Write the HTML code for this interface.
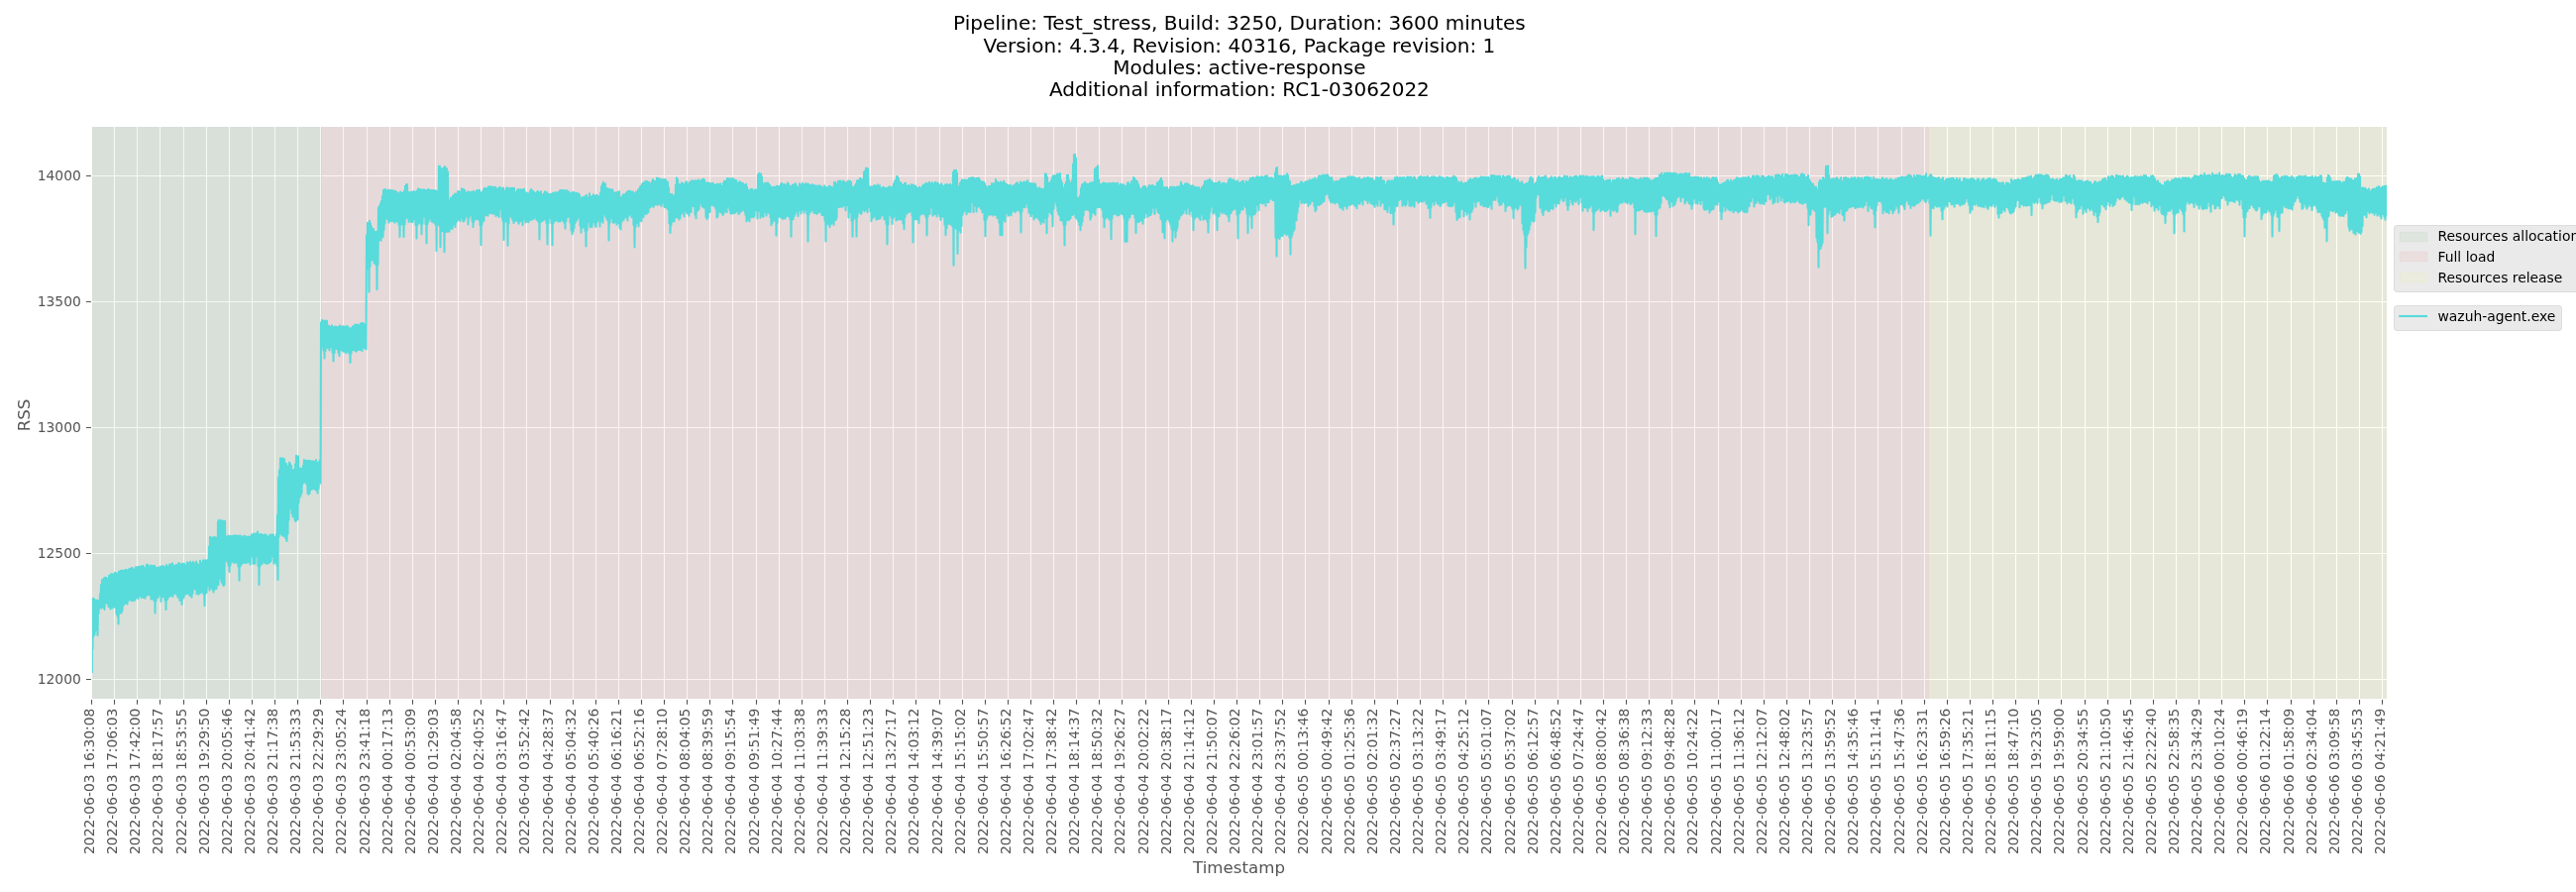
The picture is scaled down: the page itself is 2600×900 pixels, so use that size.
<!DOCTYPE html>
<html lang="en"><head><meta charset="utf-8"><title>RSS - wazuh-agent.exe</title>
<style>html,body{margin:0;padding:0;background:#fff}svg{display:block;will-change:transform}text{font-family:"DejaVu Sans","Liberation Sans",sans-serif}</style></head><body>
<svg width="2600" height="900" viewBox="0 0 2600 900">
<rect width="2600" height="900" fill="#ffffff"/>
<rect x="93.0" y="128.0" width="2316.0" height="577.0" fill="#e5e5e5"/>
<path d="M115.5,128.0V705.0M138.5,128.0V705.0M161.5,128.0V705.0M185.5,128.0V705.0M208.5,128.0V705.0M231.5,128.0V705.0M254.5,128.0V705.0M277.5,128.0V705.0M300.5,128.0V705.0M323.5,128.0V705.0M346.5,128.0V705.0M370.5,128.0V705.0M393.5,128.0V705.0M416.5,128.0V705.0M439.5,128.0V705.0M462.5,128.0V705.0M485.5,128.0V705.0M508.5,128.0V705.0M531.5,128.0V705.0M555.5,128.0V705.0M578.5,128.0V705.0M601.5,128.0V705.0M624.5,128.0V705.0M647.5,128.0V705.0M670.5,128.0V705.0M693.5,128.0V705.0M716.5,128.0V705.0M739.5,128.0V705.0M763.5,128.0V705.0M786.5,128.0V705.0M809.5,128.0V705.0M832.5,128.0V705.0M855.5,128.0V705.0M878.5,128.0V705.0M901.5,128.0V705.0M924.5,128.0V705.0M948.5,128.0V705.0M971.5,128.0V705.0M994.5,128.0V705.0M1017.5,128.0V705.0M1040.5,128.0V705.0M1063.5,128.0V705.0M1086.5,128.0V705.0M1109.5,128.0V705.0M1132.5,128.0V705.0M1156.5,128.0V705.0M1179.5,128.0V705.0M1202.5,128.0V705.0M1225.5,128.0V705.0M1248.5,128.0V705.0M1271.5,128.0V705.0M1294.5,128.0V705.0M1317.5,128.0V705.0M1341.5,128.0V705.0M1364.5,128.0V705.0M1387.5,128.0V705.0M1410.5,128.0V705.0M1433.5,128.0V705.0M1456.5,128.0V705.0M1479.5,128.0V705.0M1502.5,128.0V705.0M1526.5,128.0V705.0M1549.5,128.0V705.0M1572.5,128.0V705.0M1595.5,128.0V705.0M1618.5,128.0V705.0M1641.5,128.0V705.0M1664.5,128.0V705.0M1687.5,128.0V705.0M1710.5,128.0V705.0M1734.5,128.0V705.0M1757.5,128.0V705.0M1780.5,128.0V705.0M1803.5,128.0V705.0M1826.5,128.0V705.0M1849.5,128.0V705.0M1872.5,128.0V705.0M1895.5,128.0V705.0M1919.5,128.0V705.0M1942.5,128.0V705.0M1965.5,128.0V705.0M1988.5,128.0V705.0M2011.5,128.0V705.0M2034.5,128.0V705.0M2057.5,128.0V705.0M2080.5,128.0V705.0M2104.5,128.0V705.0M2127.5,128.0V705.0M2150.5,128.0V705.0M2173.5,128.0V705.0M2196.5,128.0V705.0M2219.5,128.0V705.0M2242.5,128.0V705.0M2265.5,128.0V705.0M2288.5,128.0V705.0M2312.5,128.0V705.0M2335.5,128.0V705.0M2358.5,128.0V705.0M2381.5,128.0V705.0M2404.5,128.0V705.0M93.0,177.5H2409.0M93.0,304.5H2409.0M93.0,431.5H2409.0M93.0,558.5H2409.0M93.0,685.5H2409.0" stroke="#ffffff" stroke-width="1.11" fill="none"/>
<rect x="93.0" y="128.0" width="232.0" height="577.0" fill="#008000" fill-opacity="0.05"/>
<rect x="324" y="128.0" width="1623" height="577.0" fill="#ff0000" fill-opacity="0.05"/>
<rect x="1946" y="128.0" width="463.0" height="577.0" fill="#ffff00" fill-opacity="0.05"/>
<clipPath id="c"><rect x="93.0" y="128.0" width="2316.0" height="577.0"/></clipPath>
<path clip-path="url(#c)" d="M93.0,679.0 93.0,604.3 93.5,654.4 94.0,603.9 94.5,641.8 95.0,604.6 95.5,640.2 96.0,605.4 96.5,635.9 97.0,606.7 97.5,624.5 98.0,605.6 98.5,641.1 99.0,606.3 99.5,619.0 100.0,607.4 100.5,613.4 101.0,599.4 101.5,611.4 102.0,590.0 102.5,613.7 103.0,585.2 103.5,608.3 104.0,584.5 104.5,612.7 105.0,583.5 105.5,615.0 106.0,582.9 106.5,608.4 107.0,582.8 107.5,608.6 108.0,583.9 108.5,605.9 109.0,583.8 109.5,612.0 110.0,580.9 110.5,611.2 111.0,582.0 111.5,614.4 112.0,579.2 112.5,612.3 113.0,579.2 113.5,613.4 114.0,581.1 114.5,608.7 115.0,579.4 115.5,612.5 116.0,577.9 116.5,612.3 117.0,579.7 117.5,619.2 118.0,578.5 118.5,621.4 119.0,579.3 119.5,629.4 120.0,576.9 120.5,619.1 121.0,576.6 121.5,616.6 122.0,575.9 122.5,618.4 123.0,575.9 123.5,615.9 124.0,576.0 124.5,610.7 125.0,575.5 125.5,609.4 126.0,576.8 126.5,608.8 127.0,574.7 127.5,604.0 128.0,575.3 128.5,609.5 129.0,577.8 129.5,606.1 130.0,574.5 130.5,605.0 131.0,573.8 131.5,602.7 132.0,577.2 132.5,606.1 133.0,573.1 133.5,603.3 134.0,573.3 134.5,606.5 135.0,574.5 135.5,597.6 136.0,576.3 136.5,605.5 137.0,572.3 137.5,603.0 138.0,575.3 138.5,600.5 139.0,572.0 139.5,604.0 140.0,572.2 140.5,597.7 141.0,571.7 141.5,601.4 142.0,572.8 142.5,602.5 143.0,571.4 143.5,603.1 144.0,571.0 144.5,602.7 145.0,571.5 145.5,601.3 146.0,573.3 146.5,603.7 147.0,573.9 147.5,600.8 148.0,569.8 148.5,600.6 149.0,569.9 149.5,599.5 150.0,571.4 150.5,600.3 151.0,574.0 151.5,599.3 152.0,570.6 152.5,604.5 153.0,574.2 153.5,604.5 154.0,570.8 154.5,598.4 155.0,574.2 155.5,606.3 156.0,570.7 156.5,618.4 157.0,574.2 157.5,606.3 158.0,572.9 158.5,600.8 159.0,573.6 159.5,602.9 160.0,572.6 160.5,595.7 161.0,575.0 161.5,600.8 162.0,571.7 162.5,606.9 163.0,571.7 163.5,595.5 164.0,571.2 164.5,602.1 165.0,571.5 165.5,595.4 166.0,574.2 166.5,605.6 167.0,572.1 167.5,614.9 168.0,570.1 168.5,605.5 169.0,571.8 169.5,603.7 170.0,573.7 170.5,598.4 171.0,569.5 171.5,601.7 172.0,571.0 172.5,600.2 173.0,569.3 173.5,601.1 174.0,568.2 174.5,601.8 175.0,572.9 175.5,598.7 176.0,571.0 176.5,598.8 177.0,570.2 177.5,598.4 178.0,570.4 178.5,600.0 179.0,569.8 179.5,602.6 180.0,568.4 180.5,599.4 181.0,568.4 181.5,606.0 182.0,569.3 182.5,604.2 183.0,571.0 183.5,609.9 184.0,568.8 184.5,604.1 185.0,569.5 185.5,602.8 186.0,568.9 186.5,600.0 187.0,570.5 187.5,599.5 188.0,570.8 188.5,597.9 189.0,567.4 189.5,598.9 190.0,568.3 190.5,597.8 191.0,569.6 191.5,601.0 192.0,566.8 192.5,597.5 193.0,568.1 193.5,602.7 194.0,568.4 194.5,598.7 195.0,566.7 195.5,594.5 196.0,568.2 196.5,594.2 197.0,569.1 197.5,591.6 198.0,566.5 198.5,599.2 199.0,568.5 199.5,596.7 200.0,569.8 200.5,599.7 201.0,569.7 201.5,594.4 202.0,565.7 202.5,598.2 203.0,568.9 203.5,593.4 204.0,567.8 204.5,597.2 205.0,565.4 205.5,599.5 206.0,568.5 206.5,611.1 207.0,565.3 207.5,599.1 208.0,567.2 208.5,597.8 209.0,565.2 209.5,591.6 210.0,564.9 210.5,589.3 211.0,551.6 211.5,595.6 212.0,541.7 212.5,587.5 213.0,543.0 213.5,593.2 214.0,542.5 214.5,594.7 215.0,543.0 215.5,597.4 216.0,541.9 216.5,594.7 217.0,542.2 217.5,593.4 218.0,544.5 218.5,593.9 219.0,542.6 219.5,589.1 220.0,526.3 220.5,590.3 221.0,524.9 221.5,582.8 222.0,528.2 222.5,583.7 223.0,525.0 223.5,586.9 224.0,526.3 224.5,589.0 225.0,525.5 225.5,590.9 226.0,526.1 226.5,590.1 227.0,525.7 227.5,565.2 228.0,541.7 228.5,563.2 229.0,542.5 229.5,567.3 230.0,540.5 230.5,570.5 231.0,542.2 231.5,577.0 232.0,540.8 232.5,570.5 233.0,541.3 233.5,563.6 234.0,541.1 234.5,566.8 235.0,541.2 235.5,560.7 236.0,540.6 236.5,568.3 237.0,540.4 237.5,563.2 238.0,542.1 238.5,567.0 239.0,540.6 239.5,568.2 240.0,542.0 240.5,571.5 241.0,540.5 241.5,585.7 242.0,544.0 242.5,571.5 243.0,540.6 243.5,569.5 244.0,542.2 244.5,568.6 245.0,541.9 245.5,561.0 246.0,540.9 246.5,567.9 247.0,543.2 247.5,566.8 248.0,541.1 248.5,568.0 249.0,542.6 249.5,567.4 250.0,542.0 250.5,566.2 251.0,541.6 251.5,567.2 252.0,541.6 252.5,569.4 253.0,542.5 253.5,561.5 254.0,539.4 254.5,560.7 255.0,541.4 255.5,568.9 256.0,538.5 256.5,562.3 257.0,539.8 257.5,568.7 258.0,538.6 258.5,561.2 259.0,538.5 259.5,560.7 260.0,536.6 260.5,571.0 261.0,539.0 261.5,590.1 262.0,540.0 262.5,571.0 263.0,539.0 263.5,567.6 264.0,539.2 264.5,569.1 265.0,541.8 265.5,564.3 266.0,539.8 266.5,566.9 267.0,542.3 267.5,568.2 268.0,539.3 268.5,567.0 269.0,540.2 269.5,569.0 270.0,541.6 270.5,562.4 271.0,541.5 271.5,568.0 272.0,539.8 272.5,567.1 273.0,540.5 273.5,565.9 274.0,539.3 274.5,561.4 275.0,539.9 275.5,560.7 276.0,539.5 276.5,568.8 277.0,541.8 277.5,567.2 278.0,543.1 278.5,567.8 279.0,539.1 279.5,570.4 280.0,519.5 280.5,585.0 281.0,481.5 281.5,541.5 282.0,474.2 282.5,533.2 283.0,462.2 283.5,538.6 284.0,465.5 284.5,539.7 285.0,462.4 285.5,540.4 286.0,463.1 286.5,540.9 287.0,463.2 287.5,535.3 288.0,468.3 288.5,543.4 289.0,467.9 289.5,545.9 290.0,470.6 290.5,538.7 291.0,475.6 291.5,524.4 292.0,466.5 292.5,512.9 293.0,468.0 293.5,511.9 294.0,469.8 294.5,517.9 295.0,475.6 295.5,521.2 296.0,474.4 296.5,520.2 297.0,473.7 297.5,524.5 298.0,468.2 298.5,526.2 299.0,459.8 299.5,524.5 300.0,461.7 300.5,524.1 301.0,460.3 301.5,506.9 302.0,472.8 302.5,501.7 303.0,472.5 303.5,500.5 304.0,473.4 304.5,497.4 305.0,473.0 305.5,488.1 306.0,469.8 306.5,481.2 307.0,464.0 307.5,486.7 308.0,466.0 308.5,485.1 309.0,464.9 309.5,488.8 310.0,465.1 310.5,497.6 311.0,465.1 311.5,498.7 312.0,464.9 312.5,497.7 313.0,465.6 313.5,492.8 314.0,465.3 314.5,493.9 315.0,467.2 315.5,492.6 316.0,465.3 316.5,493.1 317.0,465.7 317.5,492.5 318.0,466.8 318.5,494.5 319.0,464.0 319.5,490.7 320.0,467.8 320.5,497.4 321.0,466.7 321.5,492.7 322.0,465.7 322.5,487.6 323.0,464.0 323.5,487.6 324.0,325.4 324.5,344.3 325.0,323.1 325.5,349.8 326.0,323.7 326.5,353.7 327.0,324.5 327.5,361.5 328.0,323.5 328.5,354.0 329.0,323.7 329.5,346.2 330.0,323.9 330.5,350.9 331.0,329.8 331.5,351.1 332.0,328.7 332.5,353.5 333.0,330.6 333.5,345.5 334.0,329.7 334.5,350.1 335.0,328.3 335.5,355.5 336.0,330.9 336.5,364.4 337.0,330.1 337.5,355.9 338.0,329.6 338.5,352.0 339.0,332.2 339.5,350.8 340.0,329.8 340.5,352.4 341.0,331.2 341.5,355.9 342.0,329.7 342.5,359.1 343.0,328.5 343.5,349.6 344.0,329.4 344.5,353.2 345.0,330.3 345.5,353.6 346.0,329.6 346.5,354.4 347.0,329.2 347.5,355.0 348.0,331.2 348.5,353.4 349.0,329.8 349.5,356.2 350.0,329.3 350.5,354.7 351.0,329.2 351.5,354.3 352.0,330.7 352.5,356.9 353.0,332.1 353.5,365.9 354.0,331.4 354.5,356.6 355.0,331.1 355.5,352.8 356.0,329.2 356.5,353.2 357.0,330.6 357.5,348.5 358.0,328.0 358.5,354.0 359.0,327.5 359.5,354.8 360.0,330.8 360.5,353.5 361.0,327.6 361.5,352.9 362.0,328.2 362.5,346.0 363.0,328.7 363.5,353.1 364.0,326.5 364.5,347.6 365.0,326.2 365.5,354.0 366.0,325.9 366.5,345.5 367.0,326.8 367.5,351.3 368.0,327.5 368.5,348.6 369.0,328.2 369.5,352.4 370.0,237.4 370.5,271.2 371.0,224.9 371.5,269.6 372.0,225.2 372.5,294.5 373.0,222.7 373.5,269.1 374.0,225.5 374.5,259.5 375.0,228.8 375.5,262.4 376.0,232.9 376.5,260.5 377.0,231.1 377.5,265.6 378.0,235.1 378.5,259.2 379.0,234.1 379.5,267.5 380.0,233.8 380.5,292.1 381.0,233.7 381.5,267.0 382.0,209.3 382.5,242.1 383.0,208.0 383.5,236.8 384.0,205.2 384.5,242.7 385.0,202.9 385.5,239.3 386.0,197.9 386.5,239.1 387.0,192.0 387.5,232.1 388.0,191.1 388.5,225.5 389.0,191.3 389.5,219.9 390.0,194.1 390.5,220.5 391.0,192.4 391.5,221.5 392.0,191.9 392.5,224.7 393.0,191.8 393.5,216.2 394.0,192.9 394.5,223.0 395.0,192.0 395.5,217.2 396.0,192.7 396.5,223.2 397.0,192.4 397.5,222.9 398.0,193.5 398.5,224.7 399.0,192.8 399.5,222.7 400.0,193.5 400.5,223.5 401.0,194.2 401.5,220.5 402.0,195.3 402.5,226.7 403.0,195.0 403.5,239.1 404.0,193.6 404.5,226.6 405.0,194.7 405.5,225.4 406.0,194.5 406.5,226.5 407.0,195.0 407.5,239.1 408.0,192.6 408.5,226.5 409.0,187.8 409.5,220.4 410.0,186.1 410.5,219.7 411.0,186.2 411.5,219.1 412.0,194.5 412.5,223.9 413.0,194.1 413.5,218.6 414.0,195.9 414.5,223.5 415.0,193.7 415.5,224.0 416.0,193.9 416.5,224.1 417.0,193.5 417.5,217.9 418.0,193.2 418.5,221.4 419.0,193.6 419.5,227.0 420.0,193.9 420.5,240.6 421.0,192.5 421.5,227.0 422.0,190.2 422.5,223.8 423.0,192.2 423.5,224.7 424.0,191.0 424.5,225.8 425.0,192.7 425.5,236.2 426.0,191.5 426.5,225.7 427.0,191.6 427.5,218.4 428.0,191.4 428.5,216.0 429.0,192.4 429.5,226.2 430.0,192.0 430.5,245.5 431.0,192.0 431.5,226.2 432.0,191.1 432.5,223.4 433.0,191.4 433.5,220.6 434.0,193.5 434.5,219.2 435.0,192.0 435.5,223.4 436.0,192.0 436.5,222.0 437.0,192.2 437.5,224.6 438.0,192.0 438.5,222.3 439.0,192.5 439.5,226.4 440.0,192.6 440.5,253.1 441.0,193.1 441.5,226.3 442.0,193.2 442.5,222.6 443.0,167.8 443.5,227.9 444.0,167.8 444.5,249.3 445.0,170.0 445.5,229.9 446.0,170.4 446.5,233.3 447.0,170.5 447.5,232.1 448.0,169.3 448.5,254.3 449.0,168.0 449.5,234.1 450.0,169.5 450.5,232.0 451.0,170.4 451.5,233.9 452.0,173.4 452.5,227.5 453.0,204.5 453.5,233.7 454.0,202.2 454.5,230.7 455.0,199.9 455.5,228.0 456.0,201.8 456.5,231.0 457.0,197.8 457.5,226.7 458.0,197.2 458.5,223.0 459.0,195.6 459.5,228.9 460.0,196.6 460.5,224.3 461.0,195.6 461.5,222.8 462.0,193.2 462.5,219.5 463.0,193.0 463.5,221.5 464.0,194.9 464.5,223.1 465.0,193.5 465.5,217.9 466.0,190.3 466.5,220.1 467.0,192.6 467.5,223.5 468.0,191.1 468.5,222.9 469.0,192.1 469.5,220.5 470.0,195.5 470.5,217.5 471.0,194.8 471.5,218.1 472.0,193.2 472.5,226.4 473.0,197.5 473.5,219.6 474.0,193.9 474.5,217.2 475.0,194.4 475.5,215.9 476.0,193.7 476.5,223.1 477.0,196.2 477.5,228.9 478.0,192.9 478.5,223.5 479.0,194.5 479.5,216.1 480.0,194.1 480.5,220.9 481.0,192.3 481.5,219.0 482.0,193.3 482.5,221.4 483.0,191.7 483.5,222.1 484.0,192.0 484.5,227.0 485.0,194.5 485.5,247.3 486.0,194.2 486.5,226.6 487.0,193.7 487.5,217.1 488.0,191.4 488.5,222.9 489.0,189.8 489.5,213.5 490.0,191.0 490.5,217.1 491.0,190.0 491.5,214.3 492.0,191.0 492.5,217.7 493.0,188.3 493.5,211.5 494.0,189.2 494.5,214.9 495.0,188.2 495.5,214.2 496.0,188.5 496.5,215.4 497.0,190.3 497.5,214.7 498.0,188.9 498.5,215.8 499.0,190.3 499.5,214.1 500.0,188.9 500.5,217.9 501.0,191.0 501.5,214.9 502.0,190.3 502.5,216.9 503.0,192.6 503.5,218.9 504.0,189.0 504.5,211.0 505.0,189.2 505.5,210.8 506.0,190.3 506.5,219.3 507.0,192.9 507.5,222.5 508.0,189.6 508.5,242.0 509.0,193.0 509.5,223.2 510.0,192.6 510.5,212.5 511.0,190.4 511.5,223.9 512.0,189.4 512.5,247.8 513.0,193.3 513.5,225.3 514.0,190.3 514.5,218.2 515.0,189.7 515.5,215.5 516.0,192.8 516.5,219.9 517.0,189.8 517.5,222.0 518.0,189.9 518.5,225.0 519.0,190.1 519.5,223.2 520.0,194.0 520.5,222.5 521.0,194.0 521.5,217.9 522.0,192.1 522.5,223.2 523.0,191.1 523.5,225.7 524.0,191.5 524.5,223.6 525.0,191.5 525.5,223.0 526.0,191.2 526.5,221.9 527.0,191.5 527.5,227.1 528.0,191.4 528.5,221.5 529.0,190.9 529.5,221.2 530.0,194.3 530.5,224.4 531.0,194.3 531.5,221.7 532.0,195.0 532.5,223.6 533.0,195.2 533.5,224.2 534.0,195.4 534.5,219.9 535.0,192.5 535.5,221.7 536.0,191.0 536.5,222.0 537.0,192.1 537.5,220.5 538.0,193.2 538.5,220.9 539.0,193.7 539.5,219.2 540.0,194.8 540.5,219.2 541.0,196.5 541.5,221.9 542.0,193.8 542.5,219.0 543.0,193.1 543.5,224.2 544.0,194.2 544.5,241.4 545.0,194.5 545.5,224.3 546.0,193.4 546.5,221.4 547.0,196.2 547.5,223.1 548.0,197.7 548.5,221.6 549.0,195.3 549.5,221.5 550.0,193.3 550.5,220.3 551.0,197.3 551.5,224.9 552.0,194.1 552.5,246.4 553.0,195.7 553.5,225.0 554.0,195.8 554.5,218.6 555.0,197.2 555.5,220.1 556.0,195.9 556.5,225.2 557.0,196.1 557.5,247.3 558.0,194.8 558.5,225.3 559.0,197.9 559.5,222.9 560.0,194.3 560.5,222.6 561.0,195.3 561.5,222.5 562.0,194.3 562.5,219.5 563.0,194.0 563.5,223.8 564.0,195.2 564.5,221.5 565.0,192.3 565.5,223.4 566.0,192.1 566.5,220.7 567.0,192.1 567.5,221.8 568.0,192.1 568.5,223.2 569.0,192.0 569.5,224.8 570.0,192.6 570.5,230.6 571.0,193.3 571.5,223.1 572.0,192.0 572.5,219.2 573.0,194.9 573.5,218.8 574.0,193.4 574.5,217.8 575.0,194.8 575.5,224.4 576.0,195.2 576.5,232.4 577.0,194.2 577.5,236.3 578.0,194.7 578.5,233.5 579.0,193.9 579.5,230.2 580.0,195.6 580.5,224.9 581.0,194.9 581.5,222.9 582.0,194.9 582.5,221.8 583.0,197.3 583.5,219.4 584.0,195.3 584.5,218.1 585.0,196.8 585.5,227.8 586.0,200.8 586.5,234.7 587.0,199.9 587.5,230.0 588.0,199.1 588.5,225.9 589.0,200.3 589.5,229.2 590.0,198.8 590.5,232.9 591.0,198.1 591.5,248.5 592.0,196.9 592.5,232.3 593.0,200.4 593.5,224.0 594.0,199.2 594.5,220.8 595.0,195.4 595.5,229.3 596.0,199.4 596.5,225.5 597.0,198.6 597.5,228.9 598.0,197.7 598.5,224.3 599.0,196.3 599.5,224.0 600.0,198.3 600.5,226.9 601.0,197.8 601.5,228.9 602.0,196.7 602.5,224.2 603.0,197.4 603.5,220.2 604.0,198.2 604.5,222.4 605.0,198.3 605.5,228.5 606.0,194.7 606.5,223.2 607.0,188.3 607.5,222.6 608.0,185.7 608.5,224.8 609.0,183.9 609.5,212.8 610.0,186.1 610.5,216.4 611.0,185.6 611.5,219.1 612.0,191.8 612.5,221.2 613.0,190.1 613.5,222.6 614.0,194.1 614.5,242.5 615.0,190.7 615.5,224.9 616.0,191.0 616.5,220.0 617.0,194.6 617.5,219.0 618.0,191.4 618.5,224.3 619.0,193.4 619.5,225.0 620.0,195.3 620.5,223.8 621.0,194.8 621.5,222.0 622.0,194.2 622.5,226.6 623.0,194.6 623.5,223.5 624.0,193.9 624.5,225.1 625.0,193.2 625.5,229.8 626.0,199.2 626.5,231.4 627.0,199.4 627.5,223.9 628.0,198.0 628.5,220.3 629.0,196.2 629.5,221.9 630.0,196.7 630.5,216.8 631.0,196.0 631.5,219.4 632.0,194.6 632.5,219.3 633.0,194.1 633.5,222.4 634.0,192.8 634.5,217.8 635.0,192.9 635.5,214.3 636.0,192.9 636.5,216.4 637.0,194.9 637.5,219.1 638.0,193.5 638.5,218.4 639.0,193.9 639.5,226.9 640.0,195.0 640.5,249.4 641.0,195.5 641.5,229.1 642.0,193.5 642.5,225.2 643.0,196.0 643.5,221.5 644.0,191.5 644.5,228.2 645.0,190.5 645.5,222.7 646.0,188.6 646.5,222.5 647.0,187.8 647.5,223.2 648.0,185.8 648.5,217.1 649.0,184.8 649.5,219.1 650.0,184.2 650.5,216.0 651.0,183.5 651.5,212.8 652.0,183.0 652.5,215.9 653.0,183.0 653.5,214.2 654.0,184.3 654.5,214.1 655.0,183.8 655.5,208.9 656.0,185.3 656.5,209.2 657.0,186.3 657.5,207.4 658.0,183.2 658.5,205.2 659.0,181.0 659.5,208.9 660.0,183.5 660.5,207.1 661.0,182.9 661.5,206.1 662.0,183.5 662.5,204.7 663.0,179.6 663.5,207.0 664.0,180.1 664.5,204.9 665.0,180.3 665.5,206.1 666.0,183.5 666.5,205.6 667.0,180.7 667.5,208.0 668.0,181.2 668.5,204.4 669.0,181.8 669.5,204.6 670.0,181.1 670.5,208.6 671.0,181.1 671.5,209.3 672.0,181.8 672.5,206.1 673.0,183.4 673.5,210.7 674.0,184.0 674.5,211.4 675.0,189.5 675.5,225.2 676.0,195.8 676.5,235.0 677.0,200.7 677.5,226.9 678.0,195.7 678.5,223.6 679.0,197.4 679.5,222.7 680.0,198.1 680.5,223.4 681.0,197.0 681.5,219.5 682.0,186.6 682.5,219.0 683.0,179.3 683.5,219.6 684.0,181.0 684.5,215.2 685.0,185.7 685.5,221.5 686.0,186.4 686.5,220.1 687.0,189.1 687.5,216.0 688.0,184.6 688.5,212.6 689.0,185.1 689.5,214.4 690.0,186.5 690.5,218.5 691.0,185.9 691.5,210.3 692.0,184.1 692.5,212.7 693.0,183.4 693.5,215.3 694.0,186.7 694.5,214.8 695.0,185.5 695.5,217.6 696.0,183.8 696.5,213.0 697.0,185.3 697.5,214.0 698.0,182.4 698.5,207.8 699.0,182.6 699.5,207.9 700.0,183.6 700.5,206.1 701.0,182.2 701.5,216.5 702.0,182.2 702.5,220.3 703.0,183.2 703.5,213.2 704.0,182.3 704.5,211.9 705.0,181.6 705.5,211.1 706.0,182.6 706.5,205.4 707.0,184.7 707.5,205.0 708.0,181.7 708.5,208.3 709.0,180.8 709.5,208.6 710.0,180.9 710.5,209.6 711.0,181.6 711.5,207.7 712.0,184.6 712.5,218.8 713.0,184.5 713.5,221.1 714.0,184.5 714.5,219.7 715.0,184.6 715.5,213.1 716.0,186.5 716.5,213.9 717.0,185.1 717.5,206.8 718.0,185.9 718.5,205.1 719.0,184.9 719.5,207.2 720.0,185.3 720.5,205.7 721.0,187.8 721.5,208.4 722.0,186.6 722.5,210.7 723.0,187.0 723.5,219.5 724.0,185.6 724.5,218.3 725.0,186.0 725.5,212.7 726.0,186.5 726.5,213.5 727.0,185.4 727.5,214.4 728.0,187.7 728.5,213.9 729.0,187.8 729.5,217.1 730.0,184.9 730.5,215.2 731.0,182.8 731.5,211.5 732.0,183.4 732.5,212.9 733.0,182.3 733.5,214.2 734.0,180.0 734.5,208.6 735.0,180.3 735.5,206.9 736.0,180.4 736.5,211.9 737.0,182.7 737.5,215.4 738.0,180.2 738.5,214.9 739.0,182.1 739.5,215.5 740.0,180.1 740.5,215.3 741.0,182.8 741.5,214.5 742.0,181.5 742.5,214.5 743.0,182.1 743.5,209.9 744.0,184.5 744.5,213.1 745.0,184.9 745.5,215.9 746.0,183.9 746.5,215.0 747.0,183.6 747.5,212.6 748.0,184.4 748.5,213.1 749.0,187.8 749.5,210.5 750.0,185.1 750.5,211.2 751.0,186.3 751.5,213.4 752.0,189.1 752.5,217.1 753.0,185.9 753.5,223.3 754.0,188.5 754.5,221.6 755.0,191.6 755.5,219.5 756.0,192.0 756.5,223.3 757.0,193.5 757.5,215.4 758.0,191.1 758.5,219.1 759.0,190.8 759.5,218.8 760.0,193.5 760.5,219.2 761.0,192.2 761.5,218.0 762.0,191.6 762.5,212.3 763.0,191.5 763.5,211.4 764.0,191.5 764.5,220.6 765.0,176.5 765.5,212.9 766.0,174.8 766.5,211.9 767.0,177.1 767.5,219.7 768.0,175.2 768.5,217.5 769.0,178.2 769.5,218.1 770.0,188.0 770.5,218.7 771.0,185.3 771.5,213.9 772.0,185.4 772.5,214.0 773.0,184.6 773.5,217.6 774.0,188.2 774.5,212.9 775.0,184.5 775.5,214.7 776.0,185.8 776.5,210.4 777.0,186.8 777.5,219.5 778.0,190.1 778.5,227.3 779.0,188.9 779.5,225.0 780.0,188.8 780.5,222.7 781.0,190.4 781.5,221.0 782.0,188.9 782.5,222.9 783.0,188.9 783.5,237.6 784.0,187.9 784.5,225.1 785.0,188.4 785.5,214.6 786.0,188.0 786.5,218.7 787.0,189.6 787.5,212.1 788.0,186.1 788.5,219.7 789.0,184.7 789.5,219.8 790.0,186.1 790.5,220.9 791.0,186.5 791.5,213.7 792.0,186.1 792.5,220.5 793.0,186.8 793.5,218.1 794.0,187.8 794.5,214.8 795.0,184.3 795.5,218.3 796.0,185.9 796.5,218.4 797.0,188.0 797.5,221.5 798.0,187.8 798.5,238.8 799.0,189.4 799.5,221.5 800.0,186.5 800.5,221.3 801.0,187.0 801.5,218.3 802.0,185.7 802.5,216.3 803.0,185.4 803.5,210.2 804.0,187.4 804.5,213.6 805.0,189.3 805.5,218.1 806.0,189.4 806.5,208.8 807.0,185.2 807.5,212.3 808.0,187.9 808.5,215.5 809.0,186.6 809.5,211.6 810.0,184.9 810.5,206.7 811.0,186.6 811.5,214.4 812.0,186.8 812.5,212.0 813.0,185.2 813.5,210.8 814.0,187.9 814.5,216.1 815.0,185.5 815.5,243.6 816.0,185.8 816.5,216.3 817.0,187.3 817.5,211.3 818.0,186.8 818.5,213.8 819.0,186.9 819.5,209.5 820.0,186.4 820.5,212.0 821.0,188.2 821.5,214.7 822.0,187.0 822.5,214.9 823.0,188.0 823.5,214.9 824.0,187.5 824.5,216.0 825.0,187.8 825.5,214.3 826.0,187.7 826.5,214.1 827.0,187.4 827.5,213.7 828.0,187.8 828.5,213.8 829.0,188.4 829.5,217.1 830.0,189.5 830.5,217.1 831.0,189.2 831.5,215.3 832.0,187.4 832.5,222.5 833.0,191.4 833.5,243.6 834.0,189.3 834.5,226.4 835.0,189.0 835.5,220.1 836.0,190.8 836.5,226.2 837.0,187.8 837.5,229.1 838.0,187.9 838.5,226.4 839.0,189.6 839.5,224.9 840.0,189.0 840.5,224.7 841.0,189.1 841.5,227.0 842.0,184.0 842.5,221.7 843.0,183.9 843.5,222.3 844.0,185.7 844.5,220.1 845.0,185.5 845.5,203.5 846.0,182.8 846.5,208.7 847.0,184.7 847.5,208.9 848.0,182.4 848.5,207.1 849.0,183.5 849.5,208.8 850.0,183.5 850.5,208.5 851.0,182.6 851.5,202.6 852.0,185.6 852.5,206.9 853.0,183.9 853.5,212.2 854.0,184.4 854.5,207.3 855.0,185.4 855.5,206.9 856.0,182.5 856.5,219.5 857.0,184.7 857.5,214.2 858.0,182.8 858.5,213.0 859.0,183.8 859.5,222.8 860.0,188.2 860.5,238.8 861.0,189.0 861.5,221.7 862.0,189.6 862.5,210.5 863.0,187.3 863.5,219.9 864.0,185.2 864.5,238.8 865.0,182.2 865.5,218.8 866.0,182.4 866.5,213.9 867.0,181.9 867.5,208.7 868.0,179.9 868.5,215.5 869.0,180.9 869.5,215.6 870.0,181.2 870.5,211.8 871.0,181.3 871.5,209.1 872.0,173.6 872.5,213.3 873.0,172.5 873.5,211.8 874.0,169.5 874.5,205.7 875.0,169.7 875.5,214.2 876.0,170.2 876.5,209.0 877.0,189.9 877.5,208.7 878.0,188.4 878.5,213.0 879.0,189.5 879.5,223.3 880.0,188.6 880.5,217.2 881.0,188.6 881.5,219.8 882.0,187.9 882.5,216.3 883.0,187.0 883.5,217.9 884.0,187.9 884.5,221.6 885.0,189.8 885.5,221.0 886.0,186.3 886.5,213.4 887.0,188.4 887.5,220.7 888.0,187.4 888.5,220.3 889.0,190.4 889.5,217.8 890.0,190.6 890.5,213.3 891.0,189.0 891.5,217.4 892.0,189.0 892.5,221.3 893.0,190.0 893.5,220.6 894.0,190.3 894.5,226.0 895.0,189.8 895.5,246.4 896.0,192.5 896.5,226.6 897.0,188.8 897.5,214.1 898.0,188.2 898.5,216.7 899.0,189.4 899.5,219.3 900.0,189.0 900.5,226.0 901.0,189.1 901.5,220.0 902.0,185.4 902.5,218.1 903.0,182.7 903.5,215.6 904.0,181.7 904.5,222.5 905.0,178.0 905.5,221.4 906.0,178.4 906.5,220.1 907.0,180.4 907.5,221.5 908.0,184.0 908.5,217.2 909.0,184.1 909.5,221.6 910.0,185.9 910.5,220.7 911.0,186.7 911.5,225.5 912.0,187.0 912.5,231.1 913.0,185.0 913.5,219.1 914.0,184.8 914.5,213.0 915.0,187.7 915.5,215.6 916.0,188.7 916.5,212.7 917.0,186.8 917.5,213.9 918.0,188.5 918.5,208.3 919.0,187.6 919.5,213.5 920.0,186.1 920.5,217.5 921.0,188.1 921.5,244.5 922.0,186.9 922.5,221.3 923.0,188.8 923.5,221.3 924.0,187.5 924.5,221.3 925.0,189.5 925.5,221.2 926.0,189.8 926.5,217.6 927.0,190.2 927.5,225.0 928.0,188.7 928.5,214.9 929.0,189.8 929.5,216.5 930.0,190.1 930.5,210.6 931.0,187.7 931.5,215.6 932.0,186.6 932.5,215.3 933.0,187.1 933.5,216.5 934.0,185.5 934.5,219.0 935.0,184.7 935.5,237.5 936.0,187.4 936.5,218.7 937.0,185.4 937.5,212.7 938.0,183.7 938.5,215.9 939.0,187.5 939.5,209.2 940.0,185.4 940.5,209.2 941.0,184.4 941.5,217.6 942.0,187.3 942.5,210.4 943.0,185.3 943.5,216.2 944.0,183.9 944.5,215.2 945.0,186.6 945.5,218.5 946.0,184.5 946.5,215.4 947.0,185.2 947.5,213.5 948.0,188.7 948.5,218.2 949.0,186.7 949.5,222.0 950.0,185.4 950.5,213.7 951.0,187.1 951.5,218.8 952.0,187.9 952.5,217.6 953.0,189.0 953.5,226.7 954.0,186.2 954.5,237.1 955.0,188.0 955.5,230.2 956.0,185.9 956.5,225.7 957.0,187.1 957.5,222.6 958.0,186.7 958.5,226.3 959.0,185.7 959.5,225.1 960.0,189.1 960.5,227.0 961.0,187.0 961.5,228.6 962.0,173.9 962.5,267.8 963.0,171.9 963.5,229.9 964.0,173.8 964.5,224.7 965.0,171.7 965.5,231.0 966.0,174.2 966.5,255.9 967.0,187.7 967.5,232.5 968.0,188.4 968.5,232.2 969.0,184.9 969.5,234.7 970.0,183.3 970.5,228.0 971.0,181.2 971.5,216.8 972.0,182.1 972.5,214.3 973.0,183.0 973.5,212.5 974.0,181.5 974.5,206.1 975.0,182.5 975.5,216.2 976.0,181.9 976.5,211.0 977.0,182.0 977.5,213.8 978.0,180.1 978.5,211.9 979.0,180.9 979.5,213.9 980.0,179.5 980.5,203.8 981.0,179.3 981.5,202.1 982.0,179.4 982.5,214.0 983.0,179.8 983.5,205.8 984.0,180.8 984.5,207.5 985.0,180.6 985.5,213.4 986.0,180.1 986.5,209.2 987.0,179.7 987.5,207.7 988.0,179.9 988.5,207.8 989.0,181.7 989.5,209.9 990.0,183.5 990.5,210.9 991.0,183.2 991.5,214.2 992.0,183.7 992.5,209.5 993.0,183.8 993.5,221.9 994.0,185.4 994.5,238.3 995.0,187.8 995.5,221.7 996.0,190.5 996.5,218.7 997.0,189.1 997.5,216.4 998.0,187.7 998.5,216.6 999.0,188.4 999.5,216.1 1000.0,187.8 1000.5,216.6 1001.0,185.3 1001.5,214.7 1002.0,185.5 1002.5,217.6 1003.0,185.2 1003.5,216.5 1004.0,186.1 1004.5,212.1 1005.0,181.1 1005.5,217.1 1006.0,183.6 1006.5,219.9 1007.0,183.6 1007.5,214.7 1008.0,184.5 1008.5,224.7 1009.0,187.1 1009.5,237.1 1010.0,183.6 1010.5,237.1 1011.0,185.5 1011.5,237.1 1012.0,184.4 1012.5,221.9 1013.0,182.8 1013.5,219.0 1014.0,184.4 1014.5,223.8 1015.0,185.7 1015.5,214.9 1016.0,186.1 1016.5,214.5 1017.0,186.7 1017.5,217.8 1018.0,187.3 1018.5,216.8 1019.0,187.4 1019.5,215.4 1020.0,186.8 1020.5,217.2 1021.0,188.7 1021.5,213.8 1022.0,188.6 1022.5,212.3 1023.0,187.1 1023.5,207.4 1024.0,188.5 1024.5,214.3 1025.0,185.8 1025.5,212.9 1026.0,184.8 1026.5,210.8 1027.0,184.4 1027.5,211.9 1028.0,186.5 1028.5,204.2 1029.0,187.1 1029.5,214.4 1030.0,183.6 1030.5,234.4 1031.0,184.7 1031.5,213.5 1032.0,185.8 1032.5,209.2 1033.0,183.8 1033.5,204.2 1034.0,183.6 1034.5,209.3 1035.0,186.1 1035.5,205.4 1036.0,183.7 1036.5,197.6 1037.0,182.0 1037.5,209.4 1038.0,184.3 1038.5,214.7 1039.0,185.6 1039.5,210.9 1040.0,185.0 1040.5,218.3 1041.0,185.3 1041.5,211.4 1042.0,186.6 1042.5,215.7 1043.0,185.1 1043.5,221.4 1044.0,186.9 1044.5,219.2 1045.0,185.5 1045.5,216.8 1046.0,188.5 1046.5,219.6 1047.0,190.5 1047.5,216.9 1048.0,191.3 1048.5,221.2 1049.0,189.3 1049.5,222.8 1050.0,190.2 1050.5,226.0 1051.0,190.7 1051.5,223.7 1052.0,193.0 1052.5,216.6 1053.0,190.7 1053.5,224.7 1054.0,192.3 1054.5,213.9 1055.0,175.4 1055.5,220.0 1056.0,175.7 1056.5,235.2 1057.0,178.7 1057.5,218.6 1058.0,184.5 1058.5,211.6 1059.0,185.3 1059.5,214.1 1060.0,184.3 1060.5,214.9 1061.0,182.0 1061.5,216.4 1062.0,179.1 1062.5,228.2 1063.0,177.5 1063.5,210.8 1064.0,177.2 1064.5,203.8 1065.0,179.5 1065.5,200.6 1066.0,177.1 1066.5,207.5 1067.0,175.5 1067.5,213.1 1068.0,177.8 1068.5,216.3 1069.0,175.9 1069.5,217.6 1070.0,175.1 1070.5,221.9 1071.0,182.0 1071.5,222.4 1072.0,184.6 1072.5,217.4 1073.0,189.4 1073.5,226.6 1074.0,189.8 1074.5,247.4 1075.0,186.6 1075.5,226.6 1076.0,183.6 1076.5,222.1 1077.0,176.8 1077.5,216.6 1078.0,176.9 1078.5,222.3 1079.0,181.9 1079.5,220.9 1080.0,185.4 1080.5,220.2 1081.0,184.6 1081.5,210.3 1082.0,182.2 1082.5,217.0 1083.0,165.5 1083.5,215.9 1084.0,156.3 1084.5,215.5 1085.0,155.9 1085.5,218.9 1086.0,159.3 1086.5,220.2 1087.0,201.4 1087.5,221.4 1088.0,199.7 1088.5,223.7 1089.0,199.7 1089.5,227.2 1090.0,197.6 1090.5,232.2 1091.0,190.1 1091.5,227.2 1092.0,186.5 1092.5,223.6 1093.0,185.6 1093.5,217.4 1094.0,185.7 1094.5,208.3 1095.0,183.9 1095.5,211.9 1096.0,185.5 1096.5,205.7 1097.0,185.9 1097.5,211.5 1098.0,185.9 1098.5,208.7 1099.0,186.6 1099.5,213.1 1100.0,185.0 1100.5,221.6 1101.0,184.4 1101.5,218.7 1102.0,188.1 1102.5,212.7 1103.0,184.3 1103.5,214.1 1104.0,183.9 1104.5,215.4 1105.0,170.9 1105.5,216.6 1106.0,169.6 1106.5,209.6 1107.0,169.1 1107.5,203.3 1108.0,167.4 1108.5,209.3 1109.0,181.2 1109.5,201.3 1110.0,186.9 1110.5,209.2 1111.0,186.1 1111.5,209.1 1112.0,186.1 1112.5,211.7 1113.0,185.0 1113.5,219.3 1114.0,184.5 1114.5,229.3 1115.0,186.3 1115.5,220.6 1116.0,185.1 1116.5,219.8 1117.0,185.8 1117.5,219.1 1118.0,185.5 1118.5,214.8 1119.0,185.4 1119.5,221.4 1120.0,185.0 1120.5,220.9 1121.0,185.8 1121.5,241.2 1122.0,185.0 1122.5,220.5 1123.0,186.9 1123.5,213.2 1124.0,184.6 1124.5,216.3 1125.0,185.3 1125.5,209.8 1126.0,186.9 1126.5,215.4 1127.0,185.1 1127.5,217.5 1128.0,184.6 1128.5,213.5 1129.0,188.2 1129.5,217.3 1130.0,187.1 1130.5,213.0 1131.0,185.7 1131.5,214.9 1132.0,186.3 1132.5,216.1 1133.0,186.9 1133.5,210.2 1134.0,186.3 1134.5,220.3 1135.0,187.5 1135.5,243.6 1136.0,187.9 1136.5,243.6 1137.0,188.2 1137.5,243.6 1138.0,184.6 1138.5,222.0 1139.0,184.2 1139.5,214.2 1140.0,186.5 1140.5,219.3 1141.0,186.1 1141.5,215.6 1142.0,183.0 1142.5,214.8 1143.0,184.1 1143.5,215.9 1144.0,179.1 1144.5,213.0 1145.0,179.7 1145.5,219.7 1146.0,181.8 1146.5,235.0 1147.0,182.5 1147.5,223.8 1148.0,183.3 1148.5,223.8 1149.0,186.0 1149.5,224.0 1150.0,189.4 1150.5,223.2 1151.0,193.0 1151.5,222.3 1152.0,190.9 1152.5,219.7 1153.0,189.8 1153.5,225.7 1154.0,188.2 1154.5,218.2 1155.0,187.8 1155.5,219.7 1156.0,188.3 1156.5,212.4 1157.0,190.2 1157.5,214.9 1158.0,190.5 1158.5,218.7 1159.0,188.6 1159.5,217.7 1160.0,187.0 1160.5,214.0 1161.0,187.6 1161.5,216.9 1162.0,189.5 1162.5,214.5 1163.0,187.1 1163.5,209.1 1164.0,187.5 1164.5,209.6 1165.0,188.2 1165.5,216.0 1166.0,189.0 1166.5,209.5 1167.0,188.1 1167.5,208.8 1168.0,184.2 1168.5,213.4 1169.0,185.0 1169.5,215.1 1170.0,183.0 1170.5,209.0 1171.0,181.6 1171.5,220.8 1172.0,179.9 1172.5,221.7 1173.0,182.8 1173.5,234.4 1174.0,189.0 1174.5,223.2 1175.0,191.1 1175.5,240.4 1176.0,189.1 1176.5,223.2 1177.0,190.7 1177.5,221.0 1178.0,189.0 1178.5,218.7 1179.0,191.5 1179.5,221.4 1180.0,191.1 1180.5,224.0 1181.0,189.1 1181.5,226.5 1182.0,188.7 1182.5,231.0 1183.0,188.7 1183.5,243.6 1184.0,190.2 1184.5,232.1 1185.0,188.8 1185.5,231.9 1186.0,189.3 1186.5,239.6 1187.0,191.6 1187.5,232.8 1188.0,188.6 1188.5,229.6 1189.0,188.5 1189.5,221.4 1190.0,188.3 1190.5,220.4 1191.0,189.9 1191.5,211.0 1192.0,183.7 1192.5,217.1 1193.0,186.5 1193.5,214.9 1194.0,187.5 1194.5,215.1 1195.0,187.5 1195.5,211.1 1196.0,185.5 1196.5,211.6 1197.0,186.5 1197.5,215.6 1198.0,185.1 1198.5,209.5 1199.0,186.1 1199.5,208.3 1200.0,186.2 1200.5,216.2 1201.0,187.3 1201.5,212.7 1202.0,188.0 1202.5,209.6 1203.0,187.6 1203.5,218.5 1204.0,187.2 1204.5,232.2 1205.0,188.5 1205.5,220.6 1206.0,190.0 1206.5,219.7 1207.0,188.7 1207.5,215.3 1208.0,191.2 1208.5,218.4 1209.0,189.6 1209.5,217.8 1210.0,189.1 1210.5,220.3 1211.0,192.0 1211.5,221.9 1212.0,191.3 1212.5,214.2 1213.0,188.7 1213.5,216.5 1214.0,189.0 1214.5,221.8 1215.0,186.5 1215.5,216.4 1216.0,182.7 1216.5,220.8 1217.0,183.7 1217.5,217.5 1218.0,182.8 1218.5,223.8 1219.0,181.9 1219.5,234.4 1220.0,182.3 1220.5,220.1 1221.0,180.8 1221.5,213.6 1222.0,183.6 1222.5,208.2 1223.0,182.8 1223.5,208.4 1224.0,184.9 1224.5,215.8 1225.0,184.7 1225.5,214.4 1226.0,185.2 1226.5,207.0 1227.0,184.9 1227.5,217.1 1228.0,185.0 1228.5,232.2 1229.0,187.2 1229.5,216.8 1230.0,183.5 1230.5,218.3 1231.0,183.6 1231.5,213.3 1232.0,185.8 1232.5,210.7 1233.0,186.0 1233.5,215.2 1234.0,184.7 1234.5,207.3 1235.0,185.1 1235.5,213.9 1236.0,185.0 1236.5,215.3 1237.0,185.9 1237.5,216.3 1238.0,186.2 1238.5,214.8 1239.0,184.8 1239.5,218.5 1240.0,181.5 1240.5,223.3 1241.0,180.3 1241.5,215.5 1242.0,180.2 1242.5,215.1 1243.0,181.2 1243.5,209.4 1244.0,183.6 1244.5,212.0 1245.0,181.4 1245.5,210.7 1246.0,182.7 1246.5,206.6 1247.0,183.6 1247.5,211.1 1248.0,184.2 1248.5,216.4 1249.0,182.2 1249.5,240.4 1250.0,185.1 1250.5,215.8 1251.0,184.7 1251.5,214.6 1252.0,184.0 1252.5,211.1 1253.0,185.7 1253.5,210.6 1254.0,182.8 1254.5,211.7 1255.0,182.8 1255.5,206.4 1256.0,185.8 1256.5,207.7 1257.0,185.3 1257.5,209.5 1258.0,182.8 1258.5,215.5 1259.0,183.7 1259.5,235.0 1260.0,184.5 1260.5,216.3 1261.0,182.3 1261.5,209.8 1262.0,180.0 1262.5,218.0 1263.0,179.8 1263.5,230.1 1264.0,179.7 1264.5,216.9 1265.0,179.0 1265.5,215.0 1266.0,180.3 1266.5,216.2 1267.0,182.0 1267.5,214.0 1268.0,178.8 1268.5,205.6 1269.0,178.2 1269.5,206.8 1270.0,178.6 1270.5,212.2 1271.0,179.0 1271.5,204.7 1272.0,179.8 1272.5,202.4 1273.0,178.3 1273.5,204.8 1274.0,178.6 1274.5,205.6 1275.0,178.7 1275.5,204.6 1276.0,179.1 1276.5,199.8 1277.0,177.7 1277.5,207.8 1278.0,178.4 1278.5,204.3 1279.0,177.4 1279.5,204.0 1280.0,179.2 1280.5,203.9 1281.0,179.8 1281.5,201.0 1282.0,181.2 1282.5,200.4 1283.0,179.4 1283.5,197.7 1284.0,180.0 1284.5,202.0 1285.0,180.9 1285.5,202.1 1286.0,180.7 1286.5,202.6 1287.0,174.4 1287.5,239.7 1288.0,169.7 1288.5,258.6 1289.0,169.1 1289.5,239.9 1290.0,177.3 1290.5,229.3 1291.0,178.8 1291.5,241.1 1292.0,177.6 1292.5,238.3 1293.0,177.7 1293.5,234.8 1294.0,180.3 1294.5,238.1 1295.0,178.1 1295.5,231.4 1296.0,177.4 1296.5,235.6 1297.0,177.7 1297.5,232.0 1298.0,178.7 1298.5,236.9 1299.0,175.3 1299.5,236.3 1300.0,177.0 1300.5,236.3 1301.0,182.1 1301.5,239.7 1302.0,183.2 1302.5,256.7 1303.0,188.7 1303.5,239.3 1304.0,187.8 1304.5,236.4 1305.0,189.2 1305.5,233.0 1306.0,187.0 1306.5,231.8 1307.0,189.3 1307.5,219.1 1308.0,186.9 1308.5,222.5 1309.0,186.1 1309.5,214.4 1310.0,187.6 1310.5,208.7 1311.0,185.8 1311.5,200.5 1312.0,187.2 1312.5,201.2 1313.0,183.5 1313.5,205.2 1314.0,183.9 1314.5,204.0 1315.0,185.5 1315.5,203.1 1316.0,185.0 1316.5,205.0 1317.0,184.4 1317.5,204.3 1318.0,183.3 1318.5,202.8 1319.0,185.5 1319.5,204.4 1320.0,182.8 1320.5,208.0 1321.0,184.1 1321.5,201.9 1322.0,181.6 1322.5,205.7 1323.0,182.9 1323.5,203.1 1324.0,181.7 1324.5,202.2 1325.0,181.1 1325.5,203.2 1326.0,182.7 1326.5,207.9 1327.0,179.5 1327.5,213.1 1328.0,181.7 1328.5,211.8 1329.0,181.4 1329.5,205.3 1330.0,179.9 1330.5,206.6 1331.0,178.0 1331.5,206.9 1332.0,177.3 1332.5,204.8 1333.0,178.3 1333.5,205.7 1334.0,177.7 1334.5,204.2 1335.0,176.5 1335.5,198.3 1336.0,178.1 1336.5,203.1 1337.0,177.0 1337.5,193.7 1338.0,176.5 1338.5,196.5 1339.0,178.3 1339.5,195.1 1340.0,176.4 1340.5,194.0 1341.0,178.2 1341.5,199.8 1342.0,179.9 1342.5,202.5 1343.0,179.9 1343.5,204.4 1344.0,179.0 1344.5,201.4 1345.0,182.0 1345.5,204.3 1346.0,186.0 1346.5,201.4 1347.0,184.0 1347.5,205.5 1348.0,183.0 1348.5,204.3 1349.0,183.9 1349.5,199.3 1350.0,182.8 1350.5,204.0 1351.0,183.3 1351.5,206.3 1352.0,183.1 1352.5,209.4 1353.0,180.8 1353.5,204.0 1354.0,180.5 1354.5,210.1 1355.0,180.5 1355.5,211.8 1356.0,180.1 1356.5,204.6 1357.0,181.4 1357.5,207.6 1358.0,180.3 1358.5,208.3 1359.0,180.7 1359.5,210.5 1360.0,178.8 1360.5,199.4 1361.0,178.7 1361.5,207.3 1362.0,178.4 1362.5,199.6 1363.0,179.7 1363.5,206.5 1364.0,178.5 1364.5,199.1 1365.0,178.3 1365.5,205.8 1366.0,181.3 1366.5,202.2 1367.0,178.7 1367.5,207.8 1368.0,180.4 1368.5,207.6 1369.0,180.1 1369.5,210.2 1370.0,182.0 1370.5,204.6 1371.0,180.4 1371.5,205.2 1372.0,179.4 1372.5,205.7 1373.0,181.6 1373.5,203.0 1374.0,181.2 1374.5,199.3 1375.0,181.1 1375.5,206.5 1376.0,180.8 1376.5,201.5 1377.0,179.5 1377.5,199.0 1378.0,181.1 1378.5,202.0 1379.0,180.3 1379.5,200.9 1380.0,179.4 1380.5,204.9 1381.0,179.1 1381.5,200.6 1382.0,180.1 1382.5,202.5 1383.0,180.5 1383.5,204.9 1384.0,180.0 1384.5,202.1 1385.0,180.2 1385.5,206.2 1386.0,182.1 1386.5,204.4 1387.0,182.6 1387.5,208.8 1388.0,182.6 1388.5,205.4 1389.0,179.1 1389.5,198.8 1390.0,179.0 1390.5,207.7 1391.0,180.2 1391.5,201.1 1392.0,179.9 1392.5,200.3 1393.0,179.2 1393.5,207.7 1394.0,178.9 1394.5,203.9 1395.0,183.7 1395.5,204.5 1396.0,182.2 1396.5,204.5 1397.0,182.8 1397.5,211.3 1398.0,186.6 1398.5,207.0 1399.0,187.1 1399.5,211.5 1400.0,183.9 1400.5,214.0 1401.0,182.2 1401.5,207.4 1402.0,183.2 1402.5,206.1 1403.0,182.5 1403.5,215.1 1404.0,183.4 1404.5,211.0 1405.0,182.2 1405.5,215.0 1406.0,184.6 1406.5,226.5 1407.0,182.0 1407.5,213.1 1408.0,179.4 1408.5,207.7 1409.0,180.5 1409.5,208.1 1410.0,178.5 1410.5,207.7 1411.0,179.7 1411.5,202.3 1412.0,181.0 1412.5,201.7 1413.0,179.1 1413.5,200.5 1414.0,180.8 1414.5,200.7 1415.0,179.5 1415.5,207.7 1416.0,179.2 1416.5,206.0 1417.0,179.1 1417.5,202.6 1418.0,180.5 1418.5,207.7 1419.0,181.8 1419.5,205.9 1420.0,178.9 1420.5,199.4 1421.0,178.5 1421.5,201.5 1422.0,178.9 1422.5,207.7 1423.0,179.6 1423.5,206.6 1424.0,178.5 1424.5,208.0 1425.0,180.2 1425.5,205.0 1426.0,180.0 1426.5,206.9 1427.0,178.5 1427.5,208.8 1428.0,179.3 1428.5,202.5 1429.0,181.9 1429.5,202.0 1430.0,181.8 1430.5,202.7 1431.0,181.3 1431.5,204.8 1432.0,178.8 1432.5,203.5 1433.0,179.3 1433.5,202.7 1434.0,177.9 1434.5,203.4 1435.0,180.6 1435.5,199.2 1436.0,179.1 1436.5,203.5 1437.0,178.5 1437.5,200.4 1438.0,178.7 1438.5,202.1 1439.0,179.3 1439.5,205.6 1440.0,178.5 1440.5,199.6 1441.0,178.0 1441.5,210.1 1442.0,181.1 1442.5,209.1 1443.0,179.7 1443.5,219.7 1444.0,179.5 1444.5,208.9 1445.0,178.5 1445.5,198.8 1446.0,178.8 1446.5,203.4 1447.0,178.3 1447.5,206.7 1448.0,178.5 1448.5,202.3 1449.0,179.4 1449.5,202.3 1450.0,179.2 1450.5,204.9 1451.0,180.2 1451.5,205.9 1452.0,179.2 1452.5,204.2 1453.0,178.0 1453.5,207.9 1454.0,179.2 1454.5,206.7 1455.0,178.9 1455.5,200.8 1456.0,179.5 1456.5,204.4 1457.0,179.8 1457.5,203.8 1458.0,181.7 1458.5,203.9 1459.0,181.1 1459.5,202.7 1460.0,179.1 1460.5,202.3 1461.0,178.7 1461.5,207.3 1462.0,179.8 1462.5,207.8 1463.0,181.7 1463.5,208.1 1464.0,179.6 1464.5,206.1 1465.0,182.2 1465.5,208.2 1466.0,179.4 1466.5,207.2 1467.0,177.8 1467.5,203.7 1468.0,178.5 1468.5,203.1 1469.0,178.6 1469.5,214.0 1470.0,180.1 1470.5,222.0 1471.0,185.1 1471.5,220.0 1472.0,183.5 1472.5,212.5 1473.0,184.7 1473.5,219.2 1474.0,184.5 1474.5,210.4 1475.0,183.5 1475.5,211.0 1476.0,185.6 1476.5,210.1 1477.0,185.2 1477.5,218.2 1478.0,185.7 1478.5,210.6 1479.0,184.9 1479.5,213.1 1480.0,184.3 1480.5,216.6 1481.0,184.5 1481.5,214.5 1482.0,182.2 1482.5,213.0 1483.0,185.6 1483.5,221.4 1484.0,180.5 1484.5,213.9 1485.0,181.8 1485.5,213.6 1486.0,181.5 1486.5,210.6 1487.0,181.0 1487.5,202.6 1488.0,180.1 1488.5,203.6 1489.0,180.7 1489.5,208.6 1490.0,179.6 1490.5,203.4 1491.0,182.7 1491.5,203.2 1492.0,180.9 1492.5,202.4 1493.0,179.9 1493.5,201.0 1494.0,181.9 1494.5,206.7 1495.0,178.3 1495.5,205.8 1496.0,178.7 1496.5,206.7 1497.0,178.8 1497.5,208.3 1498.0,181.8 1498.5,205.1 1499.0,178.6 1499.5,208.2 1500.0,178.9 1500.5,208.0 1501.0,179.6 1501.5,209.2 1502.0,178.7 1502.5,208.8 1503.0,179.7 1503.5,206.4 1504.0,181.0 1504.5,201.9 1505.0,177.1 1505.5,210.8 1506.0,178.6 1506.5,201.9 1507.0,177.1 1507.5,201.7 1508.0,177.4 1508.5,200.8 1509.0,179.0 1509.5,201.8 1510.0,177.7 1510.5,195.7 1511.0,180.8 1511.5,197.6 1512.0,177.7 1512.5,203.7 1513.0,178.1 1513.5,207.1 1514.0,177.9 1514.5,201.4 1515.0,180.8 1515.5,206.5 1516.0,179.9 1516.5,203.3 1517.0,177.6 1517.5,200.7 1518.0,178.6 1518.5,205.1 1519.0,178.7 1519.5,212.9 1520.0,179.9 1520.5,208.4 1521.0,178.0 1521.5,207.4 1522.0,178.3 1522.5,207.2 1523.0,177.8 1523.5,201.0 1524.0,178.4 1524.5,207.0 1525.0,180.9 1525.5,208.2 1526.0,181.8 1526.5,210.7 1527.0,180.5 1527.5,220.3 1528.0,179.5 1528.5,210.7 1529.0,180.3 1529.5,209.0 1530.0,182.4 1530.5,203.0 1531.0,184.1 1531.5,211.5 1532.0,181.4 1532.5,210.3 1533.0,184.4 1533.5,206.6 1534.0,184.7 1534.5,206.0 1535.0,184.5 1535.5,207.4 1536.0,183.4 1536.5,225.2 1537.0,185.2 1537.5,232.3 1538.0,187.3 1538.5,236.5 1539.0,186.5 1539.5,270.6 1540.0,185.8 1540.5,249.4 1541.0,185.1 1541.5,237.3 1542.0,186.8 1542.5,234.8 1543.0,183.7 1543.5,231.7 1544.0,180.2 1544.5,227.0 1545.0,178.9 1545.5,221.0 1546.0,179.5 1546.5,222.1 1547.0,180.9 1547.5,223.6 1548.0,186.1 1548.5,223.0 1549.0,186.5 1549.5,214.4 1550.0,184.6 1550.5,199.1 1551.0,183.5 1551.5,195.8 1552.0,180.1 1552.5,196.0 1553.0,178.0 1553.5,193.1 1554.0,179.6 1554.5,209.7 1555.0,181.8 1555.5,207.2 1556.0,179.1 1556.5,214.3 1557.0,179.6 1557.5,217.0 1558.0,179.0 1558.5,212.8 1559.0,178.2 1559.5,210.9 1560.0,177.6 1560.5,208.3 1561.0,179.9 1561.5,211.7 1562.0,181.3 1562.5,212.6 1563.0,181.3 1563.5,213.2 1564.0,180.1 1564.5,210.9 1565.0,181.1 1565.5,210.1 1566.0,178.3 1566.5,207.5 1567.0,181.1 1567.5,211.0 1568.0,180.4 1568.5,203.2 1569.0,178.7 1569.5,204.4 1570.0,179.0 1570.5,208.5 1571.0,181.8 1571.5,200.6 1572.0,180.7 1572.5,205.0 1573.0,179.2 1573.5,205.4 1574.0,178.5 1574.5,201.6 1575.0,179.7 1575.5,198.5 1576.0,180.3 1576.5,199.4 1577.0,180.1 1577.5,202.8 1578.0,179.2 1578.5,202.8 1579.0,177.6 1579.5,197.7 1580.0,178.5 1580.5,198.9 1581.0,178.3 1581.5,206.9 1582.0,178.0 1582.5,211.9 1583.0,180.1 1583.5,206.9 1584.0,180.6 1584.5,201.0 1585.0,178.2 1585.5,200.3 1586.0,181.3 1586.5,204.5 1587.0,179.3 1587.5,206.4 1588.0,179.1 1588.5,202.3 1589.0,178.3 1589.5,200.4 1590.0,178.1 1590.5,203.8 1591.0,177.8 1591.5,199.8 1592.0,180.1 1592.5,201.8 1593.0,179.1 1593.5,205.9 1594.0,178.1 1594.5,198.1 1595.0,177.5 1595.5,198.7 1596.0,177.9 1596.5,204.2 1597.0,181.3 1597.5,212.8 1598.0,177.5 1598.5,207.6 1599.0,178.3 1599.5,208.9 1600.0,179.1 1600.5,209.6 1601.0,177.7 1601.5,206.5 1602.0,179.7 1602.5,212.9 1603.0,178.2 1603.5,209.6 1604.0,180.7 1604.5,209.4 1605.0,178.5 1605.5,207.0 1606.0,178.5 1606.5,204.8 1607.0,178.3 1607.5,213.5 1608.0,178.8 1608.5,232.2 1609.0,178.2 1609.5,214.4 1610.0,181.5 1610.5,211.2 1611.0,179.5 1611.5,212.3 1612.0,178.4 1612.5,211.3 1613.0,178.1 1613.5,209.6 1614.0,180.6 1614.5,208.2 1615.0,178.5 1615.5,213.0 1616.0,180.6 1616.5,207.5 1617.0,177.6 1617.5,211.4 1618.0,180.7 1618.5,208.8 1619.0,183.6 1619.5,212.9 1620.0,182.8 1620.5,212.9 1621.0,185.6 1621.5,212.5 1622.0,182.1 1622.5,212.0 1623.0,181.9 1623.5,210.1 1624.0,183.1 1624.5,207.8 1625.0,181.5 1625.5,217.8 1626.0,185.1 1626.5,205.9 1627.0,184.2 1627.5,211.5 1628.0,182.3 1628.5,212.7 1629.0,182.0 1629.5,211.6 1630.0,182.0 1630.5,208.3 1631.0,184.0 1631.5,213.8 1632.0,180.3 1632.5,213.4 1633.0,183.6 1633.5,206.6 1634.0,179.7 1634.5,202.7 1635.0,182.3 1635.5,204.7 1636.0,181.8 1636.5,199.2 1637.0,180.6 1637.5,204.6 1638.0,179.6 1638.5,199.7 1639.0,183.4 1639.5,202.7 1640.0,181.6 1640.5,203.9 1641.0,181.0 1641.5,203.1 1642.0,181.4 1642.5,205.2 1643.0,183.3 1643.5,198.0 1644.0,181.3 1644.5,203.6 1645.0,179.4 1645.5,206.1 1646.0,179.9 1646.5,205.5 1647.0,180.2 1647.5,203.8 1648.0,180.0 1648.5,201.6 1649.0,180.6 1649.5,209.4 1650.0,182.8 1650.5,236.3 1651.0,181.1 1651.5,213.0 1652.0,183.2 1652.5,211.8 1653.0,181.6 1653.5,212.2 1654.0,182.5 1654.5,212.2 1655.0,180.8 1655.5,208.8 1656.0,179.8 1656.5,211.4 1657.0,183.2 1657.5,210.1 1658.0,181.0 1658.5,211.0 1659.0,179.6 1659.5,213.2 1660.0,180.1 1660.5,210.5 1661.0,180.9 1661.5,213.9 1662.0,179.5 1662.5,211.4 1663.0,180.3 1663.5,213.6 1664.0,180.3 1664.5,209.9 1665.0,181.4 1665.5,213.5 1666.0,183.2 1666.5,209.2 1667.0,182.5 1667.5,213.1 1668.0,182.3 1668.5,206.5 1669.0,181.9 1669.5,212.8 1670.0,181.0 1670.5,216.4 1671.0,180.0 1671.5,238.3 1672.0,180.5 1672.5,216.7 1673.0,179.7 1673.5,211.0 1674.0,179.8 1674.5,207.3 1675.0,176.5 1675.5,209.6 1676.0,178.3 1676.5,204.7 1677.0,174.7 1677.5,193.1 1678.0,178.3 1678.5,197.1 1679.0,176.8 1679.5,196.1 1680.0,174.7 1680.5,198.6 1681.0,177.5 1681.5,199.7 1682.0,174.5 1682.5,201.2 1683.0,175.3 1683.5,198.9 1684.0,174.5 1684.5,205.6 1685.0,175.8 1685.5,209.2 1686.0,174.6 1686.5,202.6 1687.0,175.1 1687.5,203.3 1688.0,176.4 1688.5,208.1 1689.0,174.7 1689.5,206.0 1690.0,174.9 1690.5,206.4 1691.0,175.6 1691.5,203.2 1692.0,175.4 1692.5,199.9 1693.0,177.2 1693.5,198.4 1694.0,176.2 1694.5,198.1 1695.0,177.8 1695.5,196.4 1696.0,175.6 1696.5,203.3 1697.0,175.6 1697.5,199.0 1698.0,175.7 1698.5,191.9 1699.0,176.9 1699.5,199.3 1700.0,175.3 1700.5,205.4 1701.0,175.4 1701.5,203.6 1702.0,174.8 1702.5,198.8 1703.0,178.2 1703.5,202.1 1704.0,175.8 1704.5,204.7 1705.0,175.0 1705.5,205.8 1706.0,178.6 1706.5,205.6 1707.0,179.0 1707.5,210.7 1708.0,179.4 1708.5,206.1 1709.0,179.6 1709.5,200.6 1710.0,178.8 1710.5,199.1 1711.0,178.7 1711.5,204.9 1712.0,178.6 1712.5,202.7 1713.0,182.3 1713.5,205.6 1714.0,178.8 1714.5,202.0 1715.0,181.0 1715.5,202.6 1716.0,179.5 1716.5,206.0 1717.0,179.2 1717.5,202.1 1718.0,180.5 1718.5,201.0 1719.0,181.6 1719.5,210.1 1720.0,179.4 1720.5,211.7 1721.0,180.2 1721.5,208.9 1722.0,180.3 1722.5,211.5 1723.0,179.1 1723.5,205.3 1724.0,180.4 1724.5,210.6 1725.0,180.3 1725.5,214.6 1726.0,181.3 1726.5,212.2 1727.0,181.6 1727.5,211.8 1728.0,180.1 1728.5,206.6 1729.0,179.0 1729.5,211.0 1730.0,180.6 1730.5,202.9 1731.0,179.9 1731.5,206.6 1732.0,179.4 1732.5,204.4 1733.0,181.4 1733.5,206.4 1734.0,184.3 1734.5,202.9 1735.0,186.5 1735.5,202.9 1736.0,188.3 1736.5,212.9 1737.0,186.3 1737.5,221.1 1738.0,189.0 1738.5,214.1 1739.0,185.0 1739.5,206.5 1740.0,188.4 1740.5,208.3 1741.0,184.2 1741.5,212.6 1742.0,183.7 1742.5,208.7 1743.0,182.4 1743.5,209.6 1744.0,181.7 1744.5,211.2 1745.0,186.2 1745.5,211.2 1746.0,183.7 1746.5,212.7 1747.0,181.9 1747.5,206.1 1748.0,185.1 1748.5,211.4 1749.0,183.4 1749.5,214.2 1750.0,182.4 1750.5,212.6 1751.0,181.8 1751.5,212.2 1752.0,181.0 1752.5,212.3 1753.0,179.3 1753.5,213.0 1754.0,179.8 1754.5,214.4 1755.0,183.4 1755.5,210.9 1756.0,180.5 1756.5,212.9 1757.0,180.0 1757.5,211.2 1758.0,181.7 1758.5,210.6 1759.0,179.2 1759.5,213.0 1760.0,179.5 1760.5,214.0 1761.0,179.3 1761.5,213.2 1762.0,180.8 1762.5,214.1 1763.0,179.4 1763.5,213.6 1764.0,182.0 1764.5,206.1 1765.0,178.4 1765.5,208.2 1766.0,180.8 1766.5,201.9 1767.0,180.6 1767.5,203.3 1768.0,180.6 1768.5,197.1 1769.0,177.7 1769.5,199.1 1770.0,177.6 1770.5,208.5 1771.0,178.6 1771.5,203.7 1772.0,179.5 1772.5,205.0 1773.0,177.4 1773.5,197.5 1774.0,178.9 1774.5,202.2 1775.0,177.9 1775.5,203.9 1776.0,179.8 1776.5,205.4 1777.0,181.4 1777.5,200.7 1778.0,177.8 1778.5,205.1 1779.0,178.7 1779.5,203.0 1780.0,177.9 1780.5,205.9 1781.0,181.4 1781.5,200.4 1782.0,179.7 1782.5,203.3 1783.0,178.8 1783.5,193.1 1784.0,180.9 1784.5,196.0 1785.0,177.8 1785.5,192.3 1786.0,181.3 1786.5,201.1 1787.0,178.3 1787.5,195.0 1788.0,179.9 1788.5,198.6 1789.0,178.2 1789.5,205.5 1790.0,181.3 1790.5,197.3 1791.0,181.0 1791.5,203.9 1792.0,176.9 1792.5,196.7 1793.0,178.1 1793.5,197.8 1794.0,176.2 1794.5,203.9 1795.0,176.7 1795.5,196.6 1796.0,176.7 1796.5,195.5 1797.0,178.0 1797.5,202.5 1798.0,178.0 1798.5,199.2 1799.0,175.7 1799.5,198.6 1800.0,179.9 1800.5,203.3 1801.0,179.3 1801.5,204.5 1802.0,176.3 1802.5,202.0 1803.0,175.7 1803.5,203.5 1804.0,176.6 1804.5,202.2 1805.0,177.0 1805.5,199.9 1806.0,179.9 1806.5,203.4 1807.0,177.6 1807.5,204.4 1808.0,177.1 1808.5,197.9 1809.0,177.0 1809.5,203.6 1810.0,177.4 1810.5,198.3 1811.0,176.3 1811.5,204.1 1812.0,176.7 1812.5,203.4 1813.0,176.8 1813.5,201.8 1814.0,177.0 1814.5,200.3 1815.0,178.9 1815.5,203.3 1816.0,179.2 1816.5,204.6 1817.0,178.0 1817.5,203.1 1818.0,176.0 1818.5,205.2 1819.0,175.4 1819.5,205.8 1820.0,177.3 1820.5,202.7 1821.0,176.3 1821.5,204.5 1822.0,180.1 1822.5,200.8 1823.0,178.8 1823.5,204.4 1824.0,179.2 1824.5,210.1 1825.0,177.1 1825.5,227.3 1826.0,180.8 1826.5,216.5 1827.0,182.8 1827.5,216.5 1828.0,184.5 1828.5,210.9 1829.0,185.6 1829.5,208.9 1830.0,185.9 1830.5,211.0 1831.0,188.4 1831.5,212.8 1832.0,188.8 1832.5,209.8 1833.0,188.9 1833.5,239.7 1834.0,191.2 1834.5,244.2 1835.0,191.3 1835.5,269.7 1836.0,183.7 1836.5,244.2 1837.0,181.7 1837.5,250.9 1838.0,182.2 1838.5,248.1 1839.0,184.3 1839.5,245.1 1840.0,179.4 1840.5,207.2 1841.0,180.9 1841.5,208.8 1842.0,181.2 1842.5,205.0 1843.0,167.8 1843.5,209.0 1844.0,171.0 1844.5,235.2 1845.0,167.3 1845.5,216.1 1846.0,177.1 1846.5,210.2 1847.0,182.1 1847.5,212.0 1848.0,181.2 1848.5,218.7 1849.0,180.7 1849.5,218.3 1850.0,180.3 1850.5,217.0 1851.0,180.8 1851.5,216.7 1852.0,182.4 1852.5,216.3 1853.0,180.0 1853.5,214.3 1854.0,179.4 1854.5,212.8 1855.0,181.7 1855.5,214.3 1856.0,181.2 1856.5,215.0 1857.0,182.6 1857.5,209.4 1858.0,179.4 1858.5,210.5 1859.0,183.2 1859.5,216.6 1860.0,183.1 1860.5,216.9 1861.0,179.5 1861.5,222.5 1862.0,183.1 1862.5,213.1 1863.0,179.1 1863.5,212.8 1864.0,181.1 1864.5,211.8 1865.0,180.1 1865.5,209.7 1866.0,181.0 1866.5,202.4 1867.0,180.7 1867.5,209.1 1868.0,183.0 1868.5,208.4 1869.0,179.2 1869.5,204.7 1870.0,180.1 1870.5,208.1 1871.0,182.0 1871.5,203.5 1872.0,179.1 1872.5,210.1 1873.0,181.1 1873.5,209.4 1874.0,181.7 1874.5,205.9 1875.0,179.4 1875.5,208.9 1876.0,179.6 1876.5,204.6 1877.0,180.2 1877.5,208.9 1878.0,180.4 1878.5,206.8 1879.0,179.6 1879.5,208.3 1880.0,181.2 1880.5,209.4 1881.0,182.0 1881.5,205.4 1882.0,179.1 1882.5,207.1 1883.0,179.3 1883.5,202.5 1884.0,178.7 1884.5,201.9 1885.0,178.6 1885.5,212.9 1886.0,179.4 1886.5,206.9 1887.0,179.7 1887.5,207.0 1888.0,179.4 1888.5,209.8 1889.0,181.6 1889.5,210.5 1890.0,182.4 1890.5,209.9 1891.0,178.9 1891.5,216.2 1892.0,181.1 1892.5,229.5 1893.0,183.0 1893.5,212.6 1894.0,181.0 1894.5,207.1 1895.0,181.2 1895.5,198.9 1896.0,181.0 1896.5,202.8 1897.0,181.7 1897.5,202.9 1898.0,182.5 1898.5,200.4 1899.0,181.1 1899.5,205.0 1900.0,179.4 1900.5,215.3 1901.0,183.6 1901.5,209.0 1902.0,181.1 1902.5,211.8 1903.0,183.4 1903.5,213.8 1904.0,180.3 1904.5,214.0 1905.0,181.3 1905.5,213.7 1906.0,182.9 1906.5,215.3 1907.0,181.7 1907.5,209.4 1908.0,180.5 1908.5,210.8 1909.0,181.5 1909.5,212.3 1910.0,181.8 1910.5,215.2 1911.0,182.2 1911.5,213.0 1912.0,183.2 1912.5,211.5 1913.0,181.1 1913.5,205.8 1914.0,180.9 1914.5,207.8 1915.0,182.8 1915.5,210.2 1916.0,179.6 1916.5,214.7 1917.0,181.7 1917.5,206.4 1918.0,179.6 1918.5,201.4 1919.0,178.7 1919.5,206.2 1920.0,178.6 1920.5,201.0 1921.0,178.8 1921.5,208.3 1922.0,180.8 1922.5,210.9 1923.0,178.9 1923.5,203.8 1924.0,178.2 1924.5,202.0 1925.0,181.1 1925.5,201.5 1926.0,177.0 1926.5,206.2 1927.0,176.5 1927.5,204.1 1928.0,180.3 1928.5,209.9 1929.0,177.6 1929.5,204.6 1930.0,180.3 1930.5,206.7 1931.0,180.1 1931.5,207.8 1932.0,177.1 1932.5,207.2 1933.0,180.3 1933.5,205.7 1934.0,178.9 1934.5,205.4 1935.0,176.7 1935.5,198.5 1936.0,179.6 1936.5,204.6 1937.0,177.4 1937.5,200.3 1938.0,177.3 1938.5,202.8 1939.0,178.0 1939.5,197.3 1940.0,180.3 1940.5,200.3 1941.0,178.0 1941.5,200.8 1942.0,180.3 1942.5,202.3 1943.0,177.5 1943.5,204.1 1944.0,175.3 1944.5,202.2 1945.0,179.4 1945.5,200.0 1946.0,179.6 1946.5,196.9 1947.0,178.5 1947.5,205.0 1948.0,176.7 1948.5,237.6 1949.0,176.4 1949.5,209.8 1950.0,178.0 1950.5,208.0 1951.0,179.1 1951.5,210.2 1952.0,179.6 1952.5,207.0 1953.0,179.9 1953.5,204.4 1954.0,180.1 1954.5,208.5 1955.0,181.9 1955.5,202.0 1956.0,179.8 1956.5,208.5 1957.0,179.3 1957.5,202.0 1958.0,181.8 1958.5,208.1 1959.0,181.3 1959.5,212.8 1960.0,180.7 1960.5,221.3 1961.0,179.4 1961.5,211.4 1962.0,183.3 1962.5,209.6 1963.0,183.1 1963.5,206.9 1964.0,181.5 1964.5,205.1 1965.0,180.5 1965.5,208.5 1966.0,182.6 1966.5,202.6 1967.0,180.2 1967.5,203.2 1968.0,180.3 1968.5,202.3 1969.0,181.7 1969.5,206.3 1970.0,179.9 1970.5,205.9 1971.0,179.7 1971.5,201.7 1972.0,180.6 1972.5,208.6 1973.0,181.7 1973.5,204.4 1974.0,183.5 1974.5,205.5 1975.0,179.8 1975.5,205.0 1976.0,181.7 1976.5,203.2 1977.0,183.1 1977.5,206.1 1978.0,180.0 1978.5,207.5 1979.0,183.5 1979.5,198.4 1980.0,183.6 1980.5,206.2 1981.0,183.6 1981.5,204.6 1982.0,180.3 1982.5,205.8 1983.0,180.0 1983.5,203.8 1984.0,180.9 1984.5,197.5 1985.0,183.4 1985.5,200.0 1986.0,181.1 1986.5,203.9 1987.0,181.6 1987.5,207.2 1988.0,181.8 1988.5,214.8 1989.0,180.6 1989.5,208.1 1990.0,180.1 1990.5,211.6 1991.0,183.6 1991.5,206.4 1992.0,180.7 1992.5,204.0 1993.0,182.2 1993.5,206.8 1994.0,182.6 1994.5,204.8 1995.0,183.1 1995.5,205.2 1996.0,180.6 1996.5,207.7 1997.0,180.8 1997.5,206.6 1998.0,183.8 1998.5,207.8 1999.0,183.4 1999.5,208.4 2000.0,181.3 2000.5,205.5 2001.0,183.3 2001.5,208.5 2002.0,180.2 2002.5,209.3 2003.0,183.9 2003.5,206.8 2004.0,182.4 2004.5,202.7 2005.0,181.3 2005.5,209.4 2006.0,181.4 2006.5,210.7 2007.0,180.5 2007.5,208.0 2008.0,180.1 2008.5,202.9 2009.0,180.5 2009.5,206.9 2010.0,182.1 2010.5,207.9 2011.0,182.0 2011.5,205.4 2012.0,180.5 2012.5,203.2 2013.0,183.2 2013.5,208.7 2014.0,181.0 2014.5,206.5 2015.0,182.0 2015.5,205.6 2016.0,184.5 2016.5,215.7 2017.0,184.3 2017.5,219.6 2018.0,185.9 2018.5,210.8 2019.0,184.7 2019.5,215.0 2020.0,186.5 2020.5,214.5 2021.0,184.4 2021.5,211.2 2022.0,184.6 2022.5,210.8 2023.0,187.5 2023.5,213.1 2024.0,187.4 2024.5,209.0 2025.0,184.6 2025.5,205.6 2026.0,185.1 2026.5,209.1 2027.0,184.8 2027.5,211.5 2028.0,186.3 2028.5,214.2 2029.0,186.0 2029.5,215.5 2030.0,181.0 2030.5,212.1 2031.0,183.6 2031.5,214.4 2032.0,182.6 2032.5,212.9 2033.0,182.6 2033.5,209.9 2034.0,181.7 2034.5,208.1 2035.0,181.9 2035.5,202.2 2036.0,183.0 2036.5,200.4 2037.0,180.8 2037.5,202.0 2038.0,181.9 2038.5,209.2 2039.0,182.1 2039.5,203.0 2040.0,182.1 2040.5,206.1 2041.0,180.0 2041.5,204.0 2042.0,183.5 2042.5,207.6 2043.0,179.7 2043.5,200.4 2044.0,181.9 2044.5,207.5 2045.0,179.2 2045.5,207.1 2046.0,182.1 2046.5,207.4 2047.0,178.3 2047.5,203.8 2048.0,181.5 2048.5,207.1 2049.0,178.5 2049.5,204.8 2050.0,177.7 2050.5,217.0 2051.0,180.5 2051.5,203.8 2052.0,181.8 2052.5,202.4 2053.0,179.3 2053.5,204.7 2054.0,177.7 2054.5,203.3 2055.0,176.5 2055.5,202.4 2056.0,179.9 2056.5,204.9 2057.0,176.8 2057.5,199.0 2058.0,176.3 2058.5,198.5 2059.0,178.8 2059.5,203.8 2060.0,176.2 2060.5,205.6 2061.0,177.0 2061.5,210.2 2062.0,179.9 2062.5,205.6 2063.0,177.5 2063.5,204.9 2064.0,179.3 2064.5,205.5 2065.0,176.9 2065.5,203.9 2066.0,176.5 2066.5,204.3 2067.0,177.1 2067.5,202.1 2068.0,178.3 2068.5,203.7 2069.0,181.0 2069.5,201.5 2070.0,181.7 2070.5,196.0 2071.0,181.1 2071.5,193.6 2072.0,180.6 2072.5,201.4 2073.0,183.0 2073.5,202.1 2074.0,181.8 2074.5,202.1 2075.0,182.7 2075.5,202.9 2076.0,180.7 2076.5,197.5 2077.0,182.6 2077.5,201.9 2078.0,183.9 2078.5,203.9 2079.0,180.9 2079.5,199.4 2080.0,183.6 2080.5,203.8 2081.0,180.7 2081.5,202.7 2082.0,180.0 2082.5,197.0 2083.0,179.3 2083.5,197.2 2084.0,180.3 2084.5,202.7 2085.0,176.9 2085.5,202.5 2086.0,177.5 2086.5,205.2 2087.0,178.2 2087.5,203.0 2088.0,180.8 2088.5,203.8 2089.0,177.3 2089.5,201.6 2090.0,179.9 2090.5,205.3 2091.0,180.8 2091.5,199.2 2092.0,180.8 2092.5,199.6 2093.0,176.8 2093.5,205.3 2094.0,178.5 2094.5,207.1 2095.0,182.1 2095.5,219.2 2096.0,183.1 2096.5,213.8 2097.0,185.6 2097.5,211.6 2098.0,182.3 2098.5,207.8 2099.0,182.3 2099.5,210.3 2100.0,183.2 2100.5,207.1 2101.0,182.4 2101.5,205.9 2102.0,185.2 2102.5,215.7 2103.0,183.9 2103.5,211.0 2104.0,185.2 2104.5,210.7 2105.0,183.0 2105.5,213.9 2106.0,183.6 2106.5,209.8 2107.0,182.6 2107.5,205.1 2108.0,184.5 2108.5,209.9 2109.0,183.7 2109.5,212.3 2110.0,183.9 2110.5,210.5 2111.0,186.6 2111.5,209.1 2112.0,186.2 2112.5,212.5 2113.0,185.5 2113.5,217.0 2114.0,183.5 2114.5,210.2 2115.0,183.4 2115.5,213.7 2116.0,186.2 2116.5,218.5 2117.0,184.5 2117.5,224.1 2118.0,186.7 2118.5,217.3 2119.0,183.2 2119.5,214.1 2120.0,183.6 2120.5,203.7 2121.0,183.7 2121.5,205.9 2122.0,181.3 2122.5,206.3 2123.0,180.8 2123.5,208.4 2124.0,180.6 2124.5,207.4 2125.0,180.1 2125.5,211.1 2126.0,182.7 2126.5,206.5 2127.0,182.5 2127.5,199.6 2128.0,178.4 2128.5,203.2 2129.0,178.8 2129.5,207.7 2130.0,179.7 2130.5,205.1 2131.0,177.8 2131.5,203.7 2132.0,177.9 2132.5,208.0 2133.0,178.2 2133.5,206.3 2134.0,180.5 2134.5,206.4 2135.0,180.1 2135.5,203.0 2136.0,176.8 2136.5,199.4 2137.0,178.1 2137.5,199.4 2138.0,177.6 2138.5,193.5 2139.0,179.7 2139.5,201.1 2140.0,177.8 2140.5,199.8 2141.0,179.5 2141.5,198.5 2142.0,178.1 2142.5,197.9 2143.0,177.9 2143.5,194.7 2144.0,179.9 2144.5,200.6 2145.0,180.9 2145.5,194.7 2146.0,178.8 2146.5,202.6 2147.0,177.9 2147.5,195.1 2148.0,178.6 2148.5,204.3 2149.0,179.6 2149.5,203.9 2150.0,180.3 2150.5,205.1 2151.0,179.4 2151.5,211.9 2152.0,179.1 2152.5,205.9 2153.0,181.0 2153.5,197.0 2154.0,178.9 2154.5,197.9 2155.0,178.0 2155.5,206.3 2156.0,181.4 2156.5,202.5 2157.0,178.4 2157.5,206.1 2158.0,179.3 2158.5,197.2 2159.0,178.6 2159.5,206.1 2160.0,179.6 2160.5,197.1 2161.0,178.0 2161.5,204.3 2162.0,180.4 2162.5,204.7 2163.0,178.5 2163.5,203.6 2164.0,176.9 2164.5,203.1 2165.0,181.3 2165.5,203.9 2166.0,177.4 2166.5,202.9 2167.0,181.1 2167.5,205.2 2168.0,179.1 2168.5,200.5 2169.0,181.1 2169.5,202.2 2170.0,179.9 2170.5,202.9 2171.0,177.8 2171.5,208.3 2172.0,180.3 2172.5,203.2 2173.0,177.4 2173.5,206.4 2174.0,178.8 2174.5,212.8 2175.0,180.8 2175.5,205.0 2176.0,183.0 2176.5,209.5 2177.0,185.1 2177.5,208.0 2178.0,182.5 2178.5,211.8 2179.0,187.5 2179.5,206.6 2180.0,185.0 2180.5,207.0 2181.0,187.0 2181.5,214.7 2182.0,186.8 2182.5,216.0 2183.0,187.5 2183.5,212.2 2184.0,190.2 2184.5,217.3 2185.0,184.0 2185.5,224.9 2186.0,184.8 2186.5,216.6 2187.0,183.4 2187.5,208.6 2188.0,182.6 2188.5,213.0 2189.0,185.1 2189.5,209.8 2190.0,183.8 2190.5,212.4 2191.0,184.9 2191.5,210.3 2192.0,181.9 2192.5,208.7 2193.0,183.5 2193.5,215.7 2194.0,181.0 2194.5,235.2 2195.0,182.7 2195.5,216.5 2196.0,179.7 2196.5,214.5 2197.0,183.2 2197.5,207.6 2198.0,180.8 2198.5,214.4 2199.0,180.3 2199.5,210.0 2200.0,180.2 2200.5,209.5 2201.0,181.9 2201.5,211.4 2202.0,181.0 2202.5,213.3 2203.0,179.2 2203.5,216.0 2204.0,181.6 2204.5,233.5 2205.0,179.7 2205.5,212.6 2206.0,179.4 2206.5,205.4 2207.0,183.0 2207.5,202.9 2208.0,180.2 2208.5,202.2 2209.0,179.4 2209.5,205.8 2210.0,180.6 2210.5,203.2 2211.0,182.9 2211.5,204.4 2212.0,181.0 2212.5,202.3 2213.0,179.8 2213.5,205.1 2214.0,179.0 2214.5,208.9 2215.0,177.4 2215.5,203.3 2216.0,177.9 2216.5,204.4 2217.0,178.0 2217.5,206.8 2218.0,178.0 2218.5,206.0 2219.0,178.3 2219.5,210.4 2220.0,179.2 2220.5,206.8 2221.0,176.8 2221.5,202.0 2222.0,176.8 2222.5,210.1 2223.0,179.5 2223.5,211.0 2224.0,177.5 2224.5,210.6 2225.0,175.1 2225.5,205.9 2226.0,178.1 2226.5,210.1 2227.0,177.8 2227.5,210.2 2228.0,177.1 2228.5,203.6 2229.0,178.5 2229.5,203.6 2230.0,176.6 2230.5,207.9 2231.0,177.7 2231.5,213.7 2232.0,178.9 2232.5,203.4 2233.0,174.9 2233.5,205.8 2234.0,177.3 2234.5,205.5 2235.0,176.8 2235.5,210.5 2236.0,177.7 2236.5,209.9 2237.0,176.3 2237.5,203.0 2238.0,177.9 2238.5,207.4 2239.0,177.1 2239.5,204.1 2240.0,174.6 2240.5,210.2 2241.0,178.2 2241.5,193.0 2242.0,177.8 2242.5,200.1 2243.0,177.1 2243.5,196.7 2244.0,177.5 2244.5,195.9 2245.0,178.6 2245.5,198.6 2246.0,177.2 2246.5,201.7 2247.0,175.7 2247.5,200.4 2248.0,175.9 2248.5,206.6 2249.0,176.8 2249.5,203.0 2250.0,175.8 2250.5,201.8 2251.0,176.0 2251.5,202.8 2252.0,178.6 2252.5,200.0 2253.0,179.6 2253.5,203.0 2254.0,179.6 2254.5,200.7 2255.0,178.1 2255.5,204.1 2256.0,176.1 2256.5,200.2 2257.0,179.6 2257.5,201.6 2258.0,177.8 2258.5,198.6 2259.0,176.0 2259.5,202.5 2260.0,176.1 2260.5,206.7 2261.0,176.1 2261.5,201.3 2262.0,178.3 2262.5,199.3 2263.0,177.5 2263.5,210.5 2264.0,177.9 2264.5,219.2 2265.0,180.0 2265.5,238.4 2266.0,183.6 2266.5,219.2 2267.0,181.8 2267.5,213.6 2268.0,184.5 2268.5,212.7 2269.0,178.8 2269.5,210.1 2270.0,177.8 2270.5,210.0 2271.0,180.3 2271.5,203.9 2272.0,178.3 2272.5,206.7 2273.0,179.0 2273.5,201.3 2274.0,180.8 2274.5,209.4 2275.0,178.3 2275.5,204.5 2276.0,178.2 2276.5,211.8 2277.0,178.7 2277.5,212.5 2278.0,178.4 2278.5,211.1 2279.0,178.2 2279.5,207.7 2280.0,181.8 2280.5,208.2 2281.0,183.7 2281.5,208.6 2282.0,185.1 2282.5,221.0 2283.0,183.6 2283.5,216.6 2284.0,182.7 2284.5,209.4 2285.0,184.4 2285.5,214.4 2286.0,182.7 2286.5,212.3 2287.0,185.1 2287.5,214.5 2288.0,182.6 2288.5,211.3 2289.0,184.1 2289.5,208.6 2290.0,182.6 2290.5,213.3 2291.0,183.2 2291.5,207.8 2292.0,184.0 2292.5,216.4 2293.0,185.7 2293.5,238.4 2294.0,183.3 2294.5,217.8 2295.0,177.7 2295.5,214.9 2296.0,176.8 2296.5,211.8 2297.0,177.3 2297.5,207.7 2298.0,176.1 2298.5,218.7 2299.0,177.5 2299.5,217.2 2300.0,180.4 2300.5,233.0 2301.0,180.0 2301.5,215.0 2302.0,180.9 2302.5,211.1 2303.0,178.3 2303.5,214.6 2304.0,181.5 2304.5,203.5 2305.0,178.5 2305.5,207.0 2306.0,177.9 2306.5,209.1 2307.0,179.9 2307.5,204.6 2308.0,178.0 2308.5,209.5 2309.0,178.6 2309.5,210.2 2310.0,179.2 2310.5,210.3 2311.0,179.3 2311.5,210.3 2312.0,181.5 2312.5,206.8 2313.0,178.1 2313.5,211.4 2314.0,179.8 2314.5,207.0 2315.0,179.4 2315.5,203.3 2316.0,181.4 2316.5,203.2 2317.0,181.2 2317.5,200.2 2318.0,178.7 2318.5,197.4 2319.0,181.4 2319.5,196.3 2320.0,178.2 2320.5,200.0 2321.0,177.8 2321.5,203.4 2322.0,178.3 2322.5,204.1 2323.0,178.4 2323.5,210.7 2324.0,178.4 2324.5,210.1 2325.0,178.4 2325.5,204.4 2326.0,178.4 2326.5,205.8 2327.0,177.5 2327.5,208.7 2328.0,179.5 2328.5,210.6 2329.0,179.1 2329.5,208.4 2330.0,179.1 2330.5,201.2 2331.0,179.1 2331.5,206.6 2332.0,181.3 2332.5,208.2 2333.0,178.5 2333.5,211.9 2334.0,178.1 2334.5,208.0 2335.0,180.1 2335.5,206.6 2336.0,179.8 2336.5,205.3 2337.0,178.4 2337.5,207.6 2338.0,179.1 2338.5,210.2 2339.0,179.9 2339.5,214.0 2340.0,178.8 2340.5,210.1 2341.0,179.5 2341.5,214.0 2342.0,177.4 2342.5,212.1 2343.0,177.9 2343.5,217.6 2344.0,186.9 2344.5,219.7 2345.0,184.6 2345.5,222.0 2346.0,184.9 2346.5,229.8 2347.0,185.4 2347.5,221.0 2348.0,186.6 2348.5,243.3 2349.0,179.4 2349.5,218.9 2350.0,176.8 2350.5,217.8 2351.0,177.9 2351.5,209.9 2352.0,179.5 2352.5,212.3 2353.0,183.0 2353.5,211.1 2354.0,183.4 2354.5,213.2 2355.0,184.8 2355.5,212.3 2356.0,183.4 2356.5,209.8 2357.0,183.3 2357.5,214.6 2358.0,183.9 2358.5,212.4 2359.0,183.1 2359.5,214.1 2360.0,183.1 2360.5,216.4 2361.0,183.6 2361.5,217.7 2362.0,183.3 2362.5,216.4 2363.0,185.1 2363.5,217.8 2364.0,185.3 2364.5,212.6 2365.0,183.8 2365.5,217.9 2366.0,185.4 2366.5,215.3 2367.0,183.6 2367.5,215.1 2368.0,180.6 2368.5,211.9 2369.0,178.7 2369.5,210.7 2370.0,179.6 2370.5,228.8 2371.0,180.3 2371.5,232.8 2372.0,180.7 2372.5,231.2 2373.0,180.6 2373.5,227.4 2374.0,183.7 2374.5,231.5 2375.0,182.0 2375.5,235.1 2376.0,184.0 2376.5,234.1 2377.0,180.2 2377.5,236.6 2378.0,184.0 2378.5,233.3 2379.0,179.8 2379.5,231.8 2380.0,175.9 2380.5,234.5 2381.0,175.6 2381.5,234.4 2382.0,178.3 2382.5,236.0 2383.0,189.5 2383.5,233.9 2384.0,191.3 2384.5,228.1 2385.0,189.5 2385.5,211.9 2386.0,191.7 2386.5,216.8 2387.0,189.8 2387.5,213.7 2388.0,190.9 2388.5,219.2 2389.0,191.8 2389.5,211.8 2390.0,192.0 2390.5,213.3 2391.0,190.5 2391.5,215.2 2392.0,193.0 2392.5,211.7 2393.0,193.2 2393.5,213.9 2394.0,191.9 2394.5,214.7 2395.0,190.9 2395.5,212.0 2396.0,190.7 2396.5,216.8 2397.0,190.5 2397.5,208.9 2398.0,192.4 2398.5,214.5 2399.0,189.0 2399.5,217.6 2400.0,190.2 2400.5,216.2 2401.0,188.1 2401.5,210.7 2402.0,189.7 2402.5,218.2 2403.0,189.9 2403.5,220.5 2404.0,189.6 2404.5,216.3 2405.0,188.3 2405.5,210.5 2406.0,189.3 2406.5,218.5 2407.0,187.8 2407.5,221.7 2408.0,187.9 2408.5,216.6 2409.0,189.6 2409.0,217.2" fill="none" stroke="#57dbdb" stroke-width="2.08" stroke-linejoin="round" stroke-linecap="butt"/>
<path d="M92.5,705.9V710.8M115.5,705.9V710.8M138.5,705.9V710.8M161.5,705.9V710.8M185.5,705.9V710.8M208.5,705.9V710.8M231.5,705.9V710.8M254.5,705.9V710.8M277.5,705.9V710.8M300.5,705.9V710.8M323.5,705.9V710.8M346.5,705.9V710.8M370.5,705.9V710.8M393.5,705.9V710.8M416.5,705.9V710.8M439.5,705.9V710.8M462.5,705.9V710.8M485.5,705.9V710.8M508.5,705.9V710.8M531.5,705.9V710.8M555.5,705.9V710.8M578.5,705.9V710.8M601.5,705.9V710.8M624.5,705.9V710.8M647.5,705.9V710.8M670.5,705.9V710.8M693.5,705.9V710.8M716.5,705.9V710.8M739.5,705.9V710.8M763.5,705.9V710.8M786.5,705.9V710.8M809.5,705.9V710.8M832.5,705.9V710.8M855.5,705.9V710.8M878.5,705.9V710.8M901.5,705.9V710.8M924.5,705.9V710.8M948.5,705.9V710.8M971.5,705.9V710.8M994.5,705.9V710.8M1017.5,705.9V710.8M1040.5,705.9V710.8M1063.5,705.9V710.8M1086.5,705.9V710.8M1109.5,705.9V710.8M1132.5,705.9V710.8M1156.5,705.9V710.8M1179.5,705.9V710.8M1202.5,705.9V710.8M1225.5,705.9V710.8M1248.5,705.9V710.8M1271.5,705.9V710.8M1294.5,705.9V710.8M1317.5,705.9V710.8M1341.5,705.9V710.8M1364.5,705.9V710.8M1387.5,705.9V710.8M1410.5,705.9V710.8M1433.5,705.9V710.8M1456.5,705.9V710.8M1479.5,705.9V710.8M1502.5,705.9V710.8M1526.5,705.9V710.8M1549.5,705.9V710.8M1572.5,705.9V710.8M1595.5,705.9V710.8M1618.5,705.9V710.8M1641.5,705.9V710.8M1664.5,705.9V710.8M1687.5,705.9V710.8M1710.5,705.9V710.8M1734.5,705.9V710.8M1757.5,705.9V710.8M1780.5,705.9V710.8M1803.5,705.9V710.8M1826.5,705.9V710.8M1849.5,705.9V710.8M1872.5,705.9V710.8M1895.5,705.9V710.8M1919.5,705.9V710.8M1942.5,705.9V710.8M1965.5,705.9V710.8M1988.5,705.9V710.8M2011.5,705.9V710.8M2034.5,705.9V710.8M2057.5,705.9V710.8M2080.5,705.9V710.8M2104.5,705.9V710.8M2127.5,705.9V710.8M2150.5,705.9V710.8M2173.5,705.9V710.8M2196.5,705.9V710.8M2219.5,705.9V710.8M2242.5,705.9V710.8M2265.5,705.9V710.8M2288.5,705.9V710.8M2312.5,705.9V710.8M2335.5,705.9V710.8M2358.5,705.9V710.8M2381.5,705.9V710.8M2404.5,705.9V710.8M91.9,177.5H87.0M91.9,304.5H87.0M91.9,431.5H87.0M91.9,558.5H87.0M91.9,685.5H87.0" stroke="#555555" stroke-width="1.11" fill="none"/>
<g font-size="13.89" fill="#555555" text-anchor="end">
<text transform="translate(95.4,714.6) rotate(-90)">2022-06-03 16:30:08</text>
<text transform="translate(118.4,714.6) rotate(-90)">2022-06-03 17:06:03</text>
<text transform="translate(141.4,714.6) rotate(-90)">2022-06-03 17:42:00</text>
<text transform="translate(164.4,714.6) rotate(-90)">2022-06-03 18:17:57</text>
<text transform="translate(188.4,714.6) rotate(-90)">2022-06-03 18:53:55</text>
<text transform="translate(211.4,714.6) rotate(-90)">2022-06-03 19:29:50</text>
<text transform="translate(234.4,714.6) rotate(-90)">2022-06-03 20:05:46</text>
<text transform="translate(257.4,714.6) rotate(-90)">2022-06-03 20:41:42</text>
<text transform="translate(280.4,714.6) rotate(-90)">2022-06-03 21:17:38</text>
<text transform="translate(303.4,714.6) rotate(-90)">2022-06-03 21:53:33</text>
<text transform="translate(326.4,714.6) rotate(-90)">2022-06-03 22:29:29</text>
<text transform="translate(349.4,714.6) rotate(-90)">2022-06-03 23:05:24</text>
<text transform="translate(373.4,714.6) rotate(-90)">2022-06-03 23:41:18</text>
<text transform="translate(396.4,714.6) rotate(-90)">2022-06-04 00:17:13</text>
<text transform="translate(419.4,714.6) rotate(-90)">2022-06-04 00:53:09</text>
<text transform="translate(442.4,714.6) rotate(-90)">2022-06-04 01:29:03</text>
<text transform="translate(465.4,714.6) rotate(-90)">2022-06-04 02:04:58</text>
<text transform="translate(488.4,714.6) rotate(-90)">2022-06-04 02:40:52</text>
<text transform="translate(511.4,714.6) rotate(-90)">2022-06-04 03:16:47</text>
<text transform="translate(534.4,714.6) rotate(-90)">2022-06-04 03:52:42</text>
<text transform="translate(558.4,714.6) rotate(-90)">2022-06-04 04:28:37</text>
<text transform="translate(581.4,714.6) rotate(-90)">2022-06-04 05:04:32</text>
<text transform="translate(604.4,714.6) rotate(-90)">2022-06-04 05:40:26</text>
<text transform="translate(627.4,714.6) rotate(-90)">2022-06-04 06:16:21</text>
<text transform="translate(650.4,714.6) rotate(-90)">2022-06-04 06:52:16</text>
<text transform="translate(673.4,714.6) rotate(-90)">2022-06-04 07:28:10</text>
<text transform="translate(696.4,714.6) rotate(-90)">2022-06-04 08:04:05</text>
<text transform="translate(719.4,714.6) rotate(-90)">2022-06-04 08:39:59</text>
<text transform="translate(742.4,714.6) rotate(-90)">2022-06-04 09:15:54</text>
<text transform="translate(766.4,714.6) rotate(-90)">2022-06-04 09:51:49</text>
<text transform="translate(789.4,714.6) rotate(-90)">2022-06-04 10:27:44</text>
<text transform="translate(812.4,714.6) rotate(-90)">2022-06-04 11:03:38</text>
<text transform="translate(835.4,714.6) rotate(-90)">2022-06-04 11:39:33</text>
<text transform="translate(858.4,714.6) rotate(-90)">2022-06-04 12:15:28</text>
<text transform="translate(881.4,714.6) rotate(-90)">2022-06-04 12:51:23</text>
<text transform="translate(904.4,714.6) rotate(-90)">2022-06-04 13:27:17</text>
<text transform="translate(927.4,714.6) rotate(-90)">2022-06-04 14:03:12</text>
<text transform="translate(951.4,714.6) rotate(-90)">2022-06-04 14:39:07</text>
<text transform="translate(974.4,714.6) rotate(-90)">2022-06-04 15:15:02</text>
<text transform="translate(997.4,714.6) rotate(-90)">2022-06-04 15:50:57</text>
<text transform="translate(1020.4,714.6) rotate(-90)">2022-06-04 16:26:52</text>
<text transform="translate(1043.4,714.6) rotate(-90)">2022-06-04 17:02:47</text>
<text transform="translate(1066.4,714.6) rotate(-90)">2022-06-04 17:38:42</text>
<text transform="translate(1089.4,714.6) rotate(-90)">2022-06-04 18:14:37</text>
<text transform="translate(1112.4,714.6) rotate(-90)">2022-06-04 18:50:32</text>
<text transform="translate(1135.4,714.6) rotate(-90)">2022-06-04 19:26:27</text>
<text transform="translate(1159.4,714.6) rotate(-90)">2022-06-04 20:02:22</text>
<text transform="translate(1182.4,714.6) rotate(-90)">2022-06-04 20:38:17</text>
<text transform="translate(1205.4,714.6) rotate(-90)">2022-06-04 21:14:12</text>
<text transform="translate(1228.4,714.6) rotate(-90)">2022-06-04 21:50:07</text>
<text transform="translate(1251.4,714.6) rotate(-90)">2022-06-04 22:26:02</text>
<text transform="translate(1274.4,714.6) rotate(-90)">2022-06-04 23:01:57</text>
<text transform="translate(1297.4,714.6) rotate(-90)">2022-06-04 23:37:52</text>
<text transform="translate(1320.4,714.6) rotate(-90)">2022-06-05 00:13:46</text>
<text transform="translate(1344.4,714.6) rotate(-90)">2022-06-05 00:49:42</text>
<text transform="translate(1367.4,714.6) rotate(-90)">2022-06-05 01:25:36</text>
<text transform="translate(1390.4,714.6) rotate(-90)">2022-06-05 02:01:32</text>
<text transform="translate(1413.4,714.6) rotate(-90)">2022-06-05 02:37:27</text>
<text transform="translate(1436.4,714.6) rotate(-90)">2022-06-05 03:13:22</text>
<text transform="translate(1459.4,714.6) rotate(-90)">2022-06-05 03:49:17</text>
<text transform="translate(1482.4,714.6) rotate(-90)">2022-06-05 04:25:12</text>
<text transform="translate(1505.4,714.6) rotate(-90)">2022-06-05 05:01:07</text>
<text transform="translate(1529.4,714.6) rotate(-90)">2022-06-05 05:37:02</text>
<text transform="translate(1552.4,714.6) rotate(-90)">2022-06-05 06:12:57</text>
<text transform="translate(1575.4,714.6) rotate(-90)">2022-06-05 06:48:52</text>
<text transform="translate(1598.4,714.6) rotate(-90)">2022-06-05 07:24:47</text>
<text transform="translate(1621.4,714.6) rotate(-90)">2022-06-05 08:00:42</text>
<text transform="translate(1644.4,714.6) rotate(-90)">2022-06-05 08:36:38</text>
<text transform="translate(1667.4,714.6) rotate(-90)">2022-06-05 09:12:33</text>
<text transform="translate(1690.4,714.6) rotate(-90)">2022-06-05 09:48:28</text>
<text transform="translate(1713.4,714.6) rotate(-90)">2022-06-05 10:24:22</text>
<text transform="translate(1737.4,714.6) rotate(-90)">2022-06-05 11:00:17</text>
<text transform="translate(1760.4,714.6) rotate(-90)">2022-06-05 11:36:12</text>
<text transform="translate(1783.4,714.6) rotate(-90)">2022-06-05 12:12:07</text>
<text transform="translate(1806.4,714.6) rotate(-90)">2022-06-05 12:48:02</text>
<text transform="translate(1829.4,714.6) rotate(-90)">2022-06-05 13:23:57</text>
<text transform="translate(1852.4,714.6) rotate(-90)">2022-06-05 13:59:52</text>
<text transform="translate(1875.4,714.6) rotate(-90)">2022-06-05 14:35:46</text>
<text transform="translate(1898.4,714.6) rotate(-90)">2022-06-05 15:11:41</text>
<text transform="translate(1922.4,714.6) rotate(-90)">2022-06-05 15:47:36</text>
<text transform="translate(1945.4,714.6) rotate(-90)">2022-06-05 16:23:31</text>
<text transform="translate(1968.4,714.6) rotate(-90)">2022-06-05 16:59:26</text>
<text transform="translate(1991.4,714.6) rotate(-90)">2022-06-05 17:35:21</text>
<text transform="translate(2014.4,714.6) rotate(-90)">2022-06-05 18:11:15</text>
<text transform="translate(2037.4,714.6) rotate(-90)">2022-06-05 18:47:10</text>
<text transform="translate(2060.4,714.6) rotate(-90)">2022-06-05 19:23:05</text>
<text transform="translate(2083.4,714.6) rotate(-90)">2022-06-05 19:59:00</text>
<text transform="translate(2107.4,714.6) rotate(-90)">2022-06-05 20:34:55</text>
<text transform="translate(2130.4,714.6) rotate(-90)">2022-06-05 21:10:50</text>
<text transform="translate(2153.4,714.6) rotate(-90)">2022-06-05 21:46:45</text>
<text transform="translate(2176.4,714.6) rotate(-90)">2022-06-05 22:22:40</text>
<text transform="translate(2199.4,714.6) rotate(-90)">2022-06-05 22:58:35</text>
<text transform="translate(2222.4,714.6) rotate(-90)">2022-06-05 23:34:29</text>
<text transform="translate(2245.4,714.6) rotate(-90)">2022-06-06 00:10:24</text>
<text transform="translate(2268.4,714.6) rotate(-90)">2022-06-06 00:46:19</text>
<text transform="translate(2291.4,714.6) rotate(-90)">2022-06-06 01:22:14</text>
<text transform="translate(2315.4,714.6) rotate(-90)">2022-06-06 01:58:09</text>
<text transform="translate(2338.4,714.6) rotate(-90)">2022-06-06 02:34:04</text>
<text transform="translate(2361.4,714.6) rotate(-90)">2022-06-06 03:09:58</text>
<text transform="translate(2384.4,714.6) rotate(-90)">2022-06-06 03:45:53</text>
<text transform="translate(2407.4,714.6) rotate(-90)">2022-06-06 04:21:49</text>
</g>
<g font-size="13.89" fill="#555555" text-anchor="end">
<text x="81.8" y="181.9">14000</text>
<text x="81.8" y="308.9">13500</text>
<text x="81.8" y="435.9">13000</text>
<text x="81.8" y="562.9">12500</text>
<text x="81.8" y="689.9">12000</text>
</g>
<text font-size="16.67" fill="#555555" text-anchor="middle" x="1250.5" y="880.6">Timestamp</text>
<text font-size="16.67" fill="#555555" text-anchor="middle" transform="translate(29.7,419) rotate(-90)">RSS</text>
<g font-size="20" fill="#000000" text-anchor="middle">
<text x="1250.9" y="30">Pipeline: Test_stress, Build: 3250, Duration: 3600 minutes</text>
<text x="1250.9" y="53">Version: 4.3.4, Revision: 40316, Package revision: 1</text>
<text x="1250.9" y="75">Modules: active-response</text>
<text x="1250.9" y="97">Additional information: RC1-03062022</text>
</g>
<rect x="2416.5" y="227.5" width="230" height="67" rx="2.8" fill="#e5e5e5" fill-opacity="0.8" stroke="#cccccc" stroke-opacity="0.8" stroke-width="0.75"/>
<rect x="2422.1" y="234.0" width="27.9" height="9.9" fill="#008000" fill-opacity="0.05" stroke="#008000" stroke-opacity="0.05" stroke-width="0.7"/>
<text font-size="13.89" fill="#000000" x="2460.5" y="242.7">Resources allocation</text>
<rect x="2422.1" y="254.0" width="27.9" height="9.9" fill="#ff0000" fill-opacity="0.05" stroke="#ff0000" stroke-opacity="0.05" stroke-width="0.7"/>
<text font-size="13.89" fill="#000000" x="2460.5" y="263.8">Full load</text>
<rect x="2422.1" y="275.0" width="27.9" height="9.9" fill="#ffff00" fill-opacity="0.05" stroke="#ffff00" stroke-opacity="0.05" stroke-width="0.7"/>
<text font-size="13.89" fill="#000000" x="2460.5" y="285.0">Resources release</text>
<rect x="2416.5" y="308.5" width="169" height="25" rx="2.8" fill="#e5e5e5" fill-opacity="0.8" stroke="#cccccc" stroke-opacity="0.8" stroke-width="0.75"/>
<path d="M2421.2,319H2450" stroke="#57dbdb" stroke-width="2.08" fill="none"/>
<text font-size="13.89" fill="#000000" x="2460.5" y="323.6">wazuh-agent.exe</text>
</svg></body></html>
